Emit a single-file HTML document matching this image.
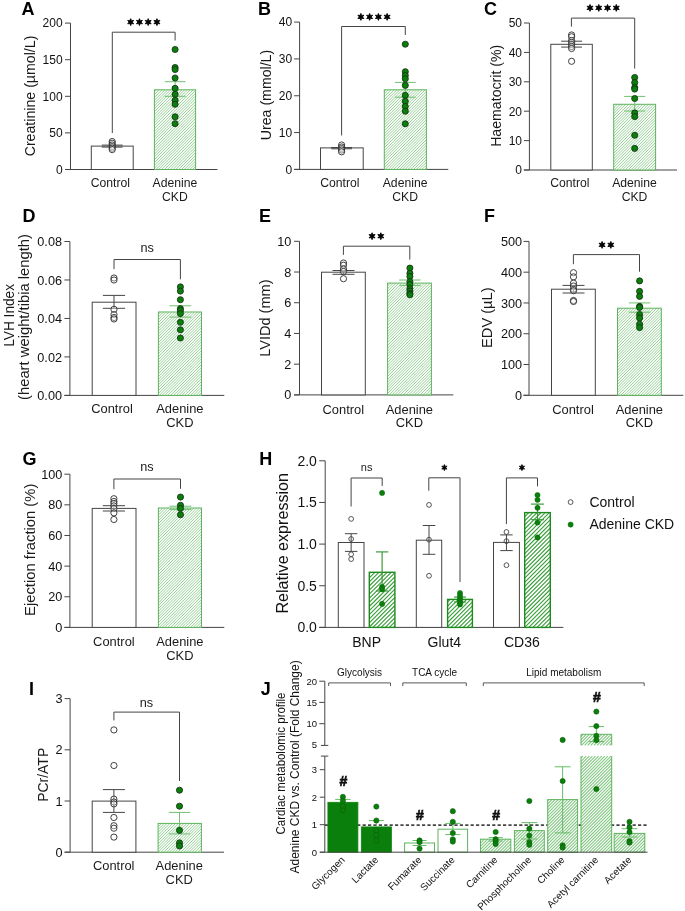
<!DOCTYPE html>
<html><head><meta charset="utf-8"><style>
html,body{margin:0;padding:0;background:#fff;}
svg{display:block;will-change:transform;}
text{font-family:"Liberation Sans", sans-serif;}
</style></head><body>
<svg width="685" height="911" viewBox="0 0 685 911">
<defs>
<pattern id="hatchA" patternUnits="userSpaceOnUse" width="2.0" height="2.0" patternTransform="rotate(45)">
<rect width="2.0" height="2.0" fill="#fff"/><line x1="0" y1="0" x2="0" y2="2.0" stroke="#5cae5c" stroke-width="1.0"/></pattern>
<pattern id="hatchH" patternUnits="userSpaceOnUse" width="2.9" height="2.9" patternTransform="rotate(45)">
<rect width="2.9" height="2.9" fill="#fff"/><line x1="0" y1="0" x2="0" y2="2.9" stroke="#2e962e" stroke-width="1.2"/></pattern>
<pattern id="hatchJ" patternUnits="userSpaceOnUse" width="2.2" height="2.2" patternTransform="rotate(45)">
<rect width="2.2" height="2.2" fill="#fff"/><line x1="0" y1="0" x2="0" y2="2.2" stroke="#8acb8a" stroke-width="1.0"/></pattern>
</defs>
<rect width="685" height="911" fill="#fff"/>
<line x1="70.50" y1="23.10" x2="70.50" y2="169.50" stroke="#454545" stroke-width="1.0" />
<line x1="65.00" y1="169.50" x2="70.50" y2="169.50" stroke="#454545" stroke-width="1.0" />
<text x="62.60" y="173.82" font-size="12" text-anchor="end" font-weight="normal" fill="#111" >0</text>
<line x1="65.00" y1="132.90" x2="70.50" y2="132.90" stroke="#454545" stroke-width="1.0" />
<text x="62.60" y="137.22" font-size="12" text-anchor="end" font-weight="normal" fill="#111" >50</text>
<line x1="65.00" y1="96.30" x2="70.50" y2="96.30" stroke="#454545" stroke-width="1.0" />
<text x="62.60" y="100.62" font-size="12" text-anchor="end" font-weight="normal" fill="#111" >100</text>
<line x1="65.00" y1="59.70" x2="70.50" y2="59.70" stroke="#454545" stroke-width="1.0" />
<text x="62.60" y="64.02" font-size="12" text-anchor="end" font-weight="normal" fill="#111" >150</text>
<line x1="65.00" y1="23.10" x2="70.50" y2="23.10" stroke="#454545" stroke-width="1.0" />
<text x="62.60" y="27.42" font-size="12" text-anchor="end" font-weight="normal" fill="#111" >200</text>
<line x1="65.00" y1="169.50" x2="217.50" y2="169.50" stroke="#454545" stroke-width="1.0" />
<rect x="91.30" y="146.10" width="41.90" height="23.40" fill="#fff" stroke="#454545" stroke-width="1.0"/>
<rect x="154.40" y="89.80" width="41.20" height="79.70" fill="#fff"/>
<path d="M154.40 91.81L156.41 89.80M154.40 94.64L159.24 89.80M154.40 97.47L162.07 89.80M154.40 100.30L164.90 89.80M154.40 103.13L167.73 89.80M154.40 105.96L170.56 89.80M154.40 108.79L173.39 89.80M154.40 111.62L176.22 89.80M154.40 114.45L179.05 89.80M154.40 117.28L181.88 89.80M154.40 120.11L184.71 89.80M154.40 122.94L187.54 89.80M154.40 125.77L190.37 89.80M154.40 128.60L193.20 89.80M154.40 131.43L195.60 90.23M154.40 134.26L195.60 93.06M154.40 137.09L195.60 95.89M154.40 139.92L195.60 98.72M154.40 142.75L195.60 101.55M154.40 145.58L195.60 104.38M154.40 148.41L195.60 107.21M154.40 151.24L195.60 110.04M154.40 154.07L195.60 112.87M154.40 156.90L195.60 115.70M154.40 159.73L195.60 118.53M154.40 162.56L195.60 121.36M154.40 165.39L195.60 124.19M154.40 168.22L195.60 127.02M155.95 169.50L195.60 129.85M158.78 169.50L195.60 132.68M161.61 169.50L195.60 135.51M164.44 169.50L195.60 138.34M167.27 169.50L195.60 141.17M170.10 169.50L195.60 144.00M172.93 169.50L195.60 146.83M175.76 169.50L195.60 149.66M178.59 169.50L195.60 152.49M181.42 169.50L195.60 155.32M184.25 169.50L195.60 158.15M187.08 169.50L195.60 160.98M189.91 169.50L195.60 163.81M192.74 169.50L195.60 166.64M195.57 169.50L195.60 169.47" stroke="#90cd90" stroke-width="0.95" fill="none"/>
<rect x="154.40" y="89.80" width="41.20" height="79.70" fill="none" stroke="#5db35d" stroke-width="1.0"/>
<polyline points="112.30,133.00 112.30,32.20 175.10,32.20 175.10,40.50" fill="none" stroke="#454545" stroke-width="1.0"/>
<polygon points="130.68,18.65 131.49,20.70 133.66,20.38 132.30,22.10 133.66,23.83 131.49,23.50 130.68,25.55 129.86,23.50 127.69,23.83 129.05,22.10 127.69,20.38 129.86,20.70" fill="#000" stroke="#000" stroke-width="0.88" stroke-linejoin="round"/>
<polygon points="139.43,18.65 140.24,20.70 142.41,20.38 141.05,22.10 142.41,23.83 140.24,23.50 139.43,25.55 138.61,23.50 136.44,23.83 137.80,22.10 136.44,20.38 138.61,20.70" fill="#000" stroke="#000" stroke-width="0.88" stroke-linejoin="round"/>
<polygon points="148.18,18.65 148.99,20.70 151.16,20.38 149.80,22.10 151.16,23.83 148.99,23.50 148.18,25.55 147.36,23.50 145.19,23.83 146.55,22.10 145.19,20.38 147.36,20.70" fill="#000" stroke="#000" stroke-width="0.88" stroke-linejoin="round"/>
<polygon points="156.93,18.65 157.74,20.70 159.91,20.38 158.55,22.10 159.91,23.83 157.74,23.50 156.93,25.55 156.11,23.50 153.94,23.83 155.30,22.10 153.94,20.38 156.11,20.70" fill="#000" stroke="#000" stroke-width="0.88" stroke-linejoin="round"/>
<line x1="112.20" y1="145.10" x2="112.20" y2="147.10" stroke="#454545" stroke-width="1.0" />
<line x1="101.80" y1="145.10" x2="122.60" y2="145.10" stroke="#454545" stroke-width="1.0" />
<line x1="101.80" y1="147.10" x2="122.60" y2="147.10" stroke="#454545" stroke-width="1.0" />
<circle cx="112.20" cy="141.50" r="3.1" fill="rgba(255,255,255,0.35)" stroke="#2c2c2c" stroke-width="0.9"/>
<circle cx="112.20" cy="143.20" r="3.1" fill="rgba(255,255,255,0.35)" stroke="#2c2c2c" stroke-width="0.9"/>
<circle cx="112.20" cy="145.00" r="3.1" fill="rgba(255,255,255,0.35)" stroke="#2c2c2c" stroke-width="0.9"/>
<circle cx="112.20" cy="146.60" r="3.1" fill="rgba(255,255,255,0.35)" stroke="#2c2c2c" stroke-width="0.9"/>
<circle cx="112.20" cy="148.20" r="3.1" fill="rgba(255,255,255,0.35)" stroke="#2c2c2c" stroke-width="0.9"/>
<circle cx="112.20" cy="149.60" r="3.1" fill="rgba(255,255,255,0.35)" stroke="#2c2c2c" stroke-width="0.9"/>
<line x1="175.10" y1="81.70" x2="175.10" y2="96.30" stroke="#6fbf6f" stroke-width="1.0" />
<line x1="164.70" y1="81.70" x2="185.50" y2="81.70" stroke="#6fbf6f" stroke-width="1.0" />
<line x1="164.70" y1="96.30" x2="185.50" y2="96.30" stroke="#6fbf6f" stroke-width="1.0" />
<circle cx="175.10" cy="49.50" r="3.05" fill="#0b7f0b" stroke="#143014" stroke-width="0.85"/>
<circle cx="175.10" cy="67.50" r="3.05" fill="#0b7f0b" stroke="#143014" stroke-width="0.85"/>
<circle cx="175.10" cy="69.50" r="3.05" fill="#0b7f0b" stroke="#143014" stroke-width="0.85"/>
<circle cx="175.10" cy="78.00" r="3.05" fill="#0b7f0b" stroke="#143014" stroke-width="0.85"/>
<circle cx="175.10" cy="88.30" r="3.05" fill="#0b7f0b" stroke="#143014" stroke-width="0.85"/>
<circle cx="175.10" cy="94.30" r="3.05" fill="#0b7f0b" stroke="#143014" stroke-width="0.85"/>
<circle cx="175.10" cy="100.30" r="3.05" fill="#0b7f0b" stroke="#143014" stroke-width="0.85"/>
<circle cx="175.10" cy="104.30" r="3.05" fill="#0b7f0b" stroke="#143014" stroke-width="0.85"/>
<circle cx="175.10" cy="116.80" r="3.05" fill="#0b7f0b" stroke="#143014" stroke-width="0.85"/>
<circle cx="175.10" cy="123.70" r="3.05" fill="#0b7f0b" stroke="#143014" stroke-width="0.85"/>
<text x="110.40" y="186.90" font-size="12.2" text-anchor="middle" font-weight="normal" fill="#1a1a1a" >Control</text>
<text x="174.90" y="186.90" font-size="12.2" text-anchor="middle" font-weight="normal" fill="#1a1a1a" >Adenine</text>
<text x="174.90" y="200.50" font-size="12.2" text-anchor="middle" font-weight="normal" fill="#1a1a1a" >CKD</text>
<text x="34.60" y="96.00" font-size="14" text-anchor="middle" font-weight="normal" fill="#1a1a1a" transform="rotate(-90 34.60 96.00)" textLength="120.7" lengthAdjust="spacingAndGlyphs" >Creatinine (µmol/L)</text>
<text x="21.50" y="15.00" font-size="18" text-anchor="start" font-weight="bold" fill="#000" >A</text>
<line x1="299.60" y1="22.10" x2="299.60" y2="169.40" stroke="#454545" stroke-width="1.0" />
<line x1="294.10" y1="169.40" x2="299.60" y2="169.40" stroke="#454545" stroke-width="1.0" />
<text x="292.20" y="173.72" font-size="12" text-anchor="end" font-weight="normal" fill="#111" >0</text>
<line x1="294.10" y1="132.57" x2="299.60" y2="132.57" stroke="#454545" stroke-width="1.0" />
<text x="292.20" y="136.89" font-size="12" text-anchor="end" font-weight="normal" fill="#111" >10</text>
<line x1="294.10" y1="95.75" x2="299.60" y2="95.75" stroke="#454545" stroke-width="1.0" />
<text x="292.20" y="100.07" font-size="12" text-anchor="end" font-weight="normal" fill="#111" >20</text>
<line x1="294.10" y1="58.92" x2="299.60" y2="58.92" stroke="#454545" stroke-width="1.0" />
<text x="292.20" y="63.24" font-size="12" text-anchor="end" font-weight="normal" fill="#111" >30</text>
<line x1="294.10" y1="22.10" x2="299.60" y2="22.10" stroke="#454545" stroke-width="1.0" />
<text x="292.20" y="26.42" font-size="12" text-anchor="end" font-weight="normal" fill="#111" >40</text>
<line x1="294.10" y1="169.40" x2="448.30" y2="169.40" stroke="#454545" stroke-width="1.0" />
<rect x="320.50" y="147.90" width="42.70" height="21.50" fill="#fff" stroke="#454545" stroke-width="1.0"/>
<rect x="384.30" y="89.80" width="42.10" height="79.60" fill="#fff"/>
<path d="M384.30 91.14L385.64 89.80M384.30 93.97L388.47 89.80M384.30 96.80L391.30 89.80M384.30 99.63L394.13 89.80M384.30 102.46L396.96 89.80M384.30 105.29L399.79 89.80M384.30 108.12L402.62 89.80M384.30 110.95L405.45 89.80M384.30 113.78L408.28 89.80M384.30 116.61L411.11 89.80M384.30 119.44L413.94 89.80M384.30 122.27L416.77 89.80M384.30 125.10L419.60 89.80M384.30 127.93L422.43 89.80M384.30 130.76L425.26 89.80M384.30 133.59L426.40 91.49M384.30 136.42L426.40 94.32M384.30 139.25L426.40 97.15M384.30 142.08L426.40 99.98M384.30 144.91L426.40 102.81M384.30 147.74L426.40 105.64M384.30 150.57L426.40 108.47M384.30 153.40L426.40 111.30M384.30 156.23L426.40 114.13M384.30 159.06L426.40 116.96M384.30 161.89L426.40 119.79M384.30 164.72L426.40 122.62M384.30 167.55L426.40 125.45M385.28 169.40L426.40 128.28M388.11 169.40L426.40 131.11M390.94 169.40L426.40 133.94M393.77 169.40L426.40 136.77M396.60 169.40L426.40 139.60M399.43 169.40L426.40 142.43M402.26 169.40L426.40 145.26M405.09 169.40L426.40 148.09M407.92 169.40L426.40 150.92M410.75 169.40L426.40 153.75M413.58 169.40L426.40 156.58M416.41 169.40L426.40 159.41M419.24 169.40L426.40 162.24M422.07 169.40L426.40 165.07M424.90 169.40L426.40 167.90" stroke="#90cd90" stroke-width="0.95" fill="none"/>
<rect x="384.30" y="89.80" width="42.10" height="79.60" fill="none" stroke="#5db35d" stroke-width="1.0"/>
<polyline points="341.60,135.50 341.60,26.50 405.30,26.50 405.30,35.00" fill="none" stroke="#454545" stroke-width="1.0"/>
<polygon points="360.88,13.45 361.69,15.50 363.86,15.17 362.50,16.90 363.86,18.62 361.69,18.30 360.88,20.35 360.06,18.30 357.89,18.62 359.25,16.90 357.89,15.17 360.06,15.50" fill="#000" stroke="#000" stroke-width="0.88" stroke-linejoin="round"/>
<polygon points="369.62,13.45 370.44,15.50 372.61,15.17 371.25,16.90 372.61,18.62 370.44,18.30 369.62,20.35 368.81,18.30 366.64,18.62 368.00,16.90 366.64,15.17 368.81,15.50" fill="#000" stroke="#000" stroke-width="0.88" stroke-linejoin="round"/>
<polygon points="378.38,13.45 379.19,15.50 381.36,15.17 380.00,16.90 381.36,18.62 379.19,18.30 378.38,20.35 377.56,18.30 375.39,18.62 376.75,16.90 375.39,15.17 377.56,15.50" fill="#000" stroke="#000" stroke-width="0.88" stroke-linejoin="round"/>
<polygon points="387.12,13.45 387.94,15.50 390.11,15.17 388.75,16.90 390.11,18.62 387.94,18.30 387.12,20.35 386.31,18.30 384.14,18.62 385.50,16.90 384.14,15.17 386.31,15.50" fill="#000" stroke="#000" stroke-width="0.88" stroke-linejoin="round"/>
<line x1="341.60" y1="147.50" x2="341.60" y2="148.80" stroke="#454545" stroke-width="1.0" />
<line x1="331.20" y1="147.50" x2="352.00" y2="147.50" stroke="#454545" stroke-width="1.0" />
<line x1="331.20" y1="148.80" x2="352.00" y2="148.80" stroke="#454545" stroke-width="1.0" />
<circle cx="341.60" cy="145.00" r="3.1" fill="rgba(255,255,255,0.35)" stroke="#2c2c2c" stroke-width="0.9"/>
<circle cx="341.60" cy="147.00" r="3.1" fill="rgba(255,255,255,0.35)" stroke="#2c2c2c" stroke-width="0.9"/>
<circle cx="341.60" cy="148.50" r="3.1" fill="rgba(255,255,255,0.35)" stroke="#2c2c2c" stroke-width="0.9"/>
<circle cx="341.60" cy="150.00" r="3.1" fill="rgba(255,255,255,0.35)" stroke="#2c2c2c" stroke-width="0.9"/>
<circle cx="341.60" cy="151.80" r="3.1" fill="rgba(255,255,255,0.35)" stroke="#2c2c2c" stroke-width="0.9"/>
<line x1="405.30" y1="82.40" x2="405.30" y2="97.20" stroke="#6fbf6f" stroke-width="1.0" />
<line x1="394.90" y1="82.40" x2="415.70" y2="82.40" stroke="#6fbf6f" stroke-width="1.0" />
<line x1="394.90" y1="97.20" x2="415.70" y2="97.20" stroke="#6fbf6f" stroke-width="1.0" />
<circle cx="405.30" cy="44.20" r="3.05" fill="#0b7f0b" stroke="#143014" stroke-width="0.85"/>
<circle cx="405.30" cy="71.70" r="3.05" fill="#0b7f0b" stroke="#143014" stroke-width="0.85"/>
<circle cx="405.30" cy="75.50" r="3.05" fill="#0b7f0b" stroke="#143014" stroke-width="0.85"/>
<circle cx="405.30" cy="78.80" r="3.05" fill="#0b7f0b" stroke="#143014" stroke-width="0.85"/>
<circle cx="405.30" cy="85.40" r="3.05" fill="#0b7f0b" stroke="#143014" stroke-width="0.85"/>
<circle cx="405.30" cy="95.40" r="3.05" fill="#0b7f0b" stroke="#143014" stroke-width="0.85"/>
<circle cx="405.30" cy="101.30" r="3.05" fill="#0b7f0b" stroke="#143014" stroke-width="0.85"/>
<circle cx="405.30" cy="106.50" r="3.05" fill="#0b7f0b" stroke="#143014" stroke-width="0.85"/>
<circle cx="405.30" cy="111.20" r="3.05" fill="#0b7f0b" stroke="#143014" stroke-width="0.85"/>
<circle cx="405.30" cy="123.80" r="3.05" fill="#0b7f0b" stroke="#143014" stroke-width="0.85"/>
<text x="339.90" y="186.90" font-size="12.2" text-anchor="middle" font-weight="normal" fill="#1a1a1a" >Control</text>
<text x="405.10" y="186.90" font-size="12.2" text-anchor="middle" font-weight="normal" fill="#1a1a1a" >Adenine</text>
<text x="405.10" y="200.50" font-size="12.2" text-anchor="middle" font-weight="normal" fill="#1a1a1a" >CKD</text>
<text x="271.20" y="95.00" font-size="14" text-anchor="middle" font-weight="normal" fill="#1a1a1a" transform="rotate(-90 271.20 95.00)" textLength="90.4" lengthAdjust="spacingAndGlyphs" >Urea (mmol/L)</text>
<text x="258.00" y="15.00" font-size="18" text-anchor="start" font-weight="bold" fill="#000" >B</text>
<line x1="529.40" y1="23.00" x2="529.40" y2="170.00" stroke="#454545" stroke-width="1.0" />
<line x1="523.90" y1="170.00" x2="529.40" y2="170.00" stroke="#454545" stroke-width="1.0" />
<text x="522.00" y="174.32" font-size="12" text-anchor="end" font-weight="normal" fill="#111" >0</text>
<line x1="523.90" y1="140.60" x2="529.40" y2="140.60" stroke="#454545" stroke-width="1.0" />
<text x="522.00" y="144.92" font-size="12" text-anchor="end" font-weight="normal" fill="#111" >10</text>
<line x1="523.90" y1="111.20" x2="529.40" y2="111.20" stroke="#454545" stroke-width="1.0" />
<text x="522.00" y="115.52" font-size="12" text-anchor="end" font-weight="normal" fill="#111" >20</text>
<line x1="523.90" y1="81.80" x2="529.40" y2="81.80" stroke="#454545" stroke-width="1.0" />
<text x="522.00" y="86.12" font-size="12" text-anchor="end" font-weight="normal" fill="#111" >30</text>
<line x1="523.90" y1="52.40" x2="529.40" y2="52.40" stroke="#454545" stroke-width="1.0" />
<text x="522.00" y="56.72" font-size="12" text-anchor="end" font-weight="normal" fill="#111" >40</text>
<line x1="523.90" y1="23.00" x2="529.40" y2="23.00" stroke="#454545" stroke-width="1.0" />
<text x="522.00" y="27.32" font-size="12" text-anchor="end" font-weight="normal" fill="#111" >50</text>
<line x1="523.90" y1="170.00" x2="677.00" y2="170.00" stroke="#454545" stroke-width="1.0" />
<rect x="550.80" y="44.30" width="41.50" height="125.70" fill="#fff" stroke="#454545" stroke-width="1.0"/>
<rect x="613.70" y="104.30" width="41.90" height="65.70" fill="#fff"/>
<path d="M613.70 105.12L614.52 104.30M613.70 107.95L617.35 104.30M613.70 110.78L620.18 104.30M613.70 113.61L623.01 104.30M613.70 116.44L625.84 104.30M613.70 119.27L628.67 104.30M613.70 122.10L631.50 104.30M613.70 124.93L634.33 104.30M613.70 127.76L637.16 104.30M613.70 130.59L639.99 104.30M613.70 133.42L642.82 104.30M613.70 136.25L645.65 104.30M613.70 139.08L648.48 104.30M613.70 141.91L651.31 104.30M613.70 144.74L654.14 104.30M613.70 147.57L655.60 105.67M613.70 150.40L655.60 108.50M613.70 153.23L655.60 111.33M613.70 156.06L655.60 114.16M613.70 158.89L655.60 116.99M613.70 161.72L655.60 119.82M613.70 164.55L655.60 122.65M613.70 167.38L655.60 125.48M613.91 170.00L655.60 128.31M616.74 170.00L655.60 131.14M619.57 170.00L655.60 133.97M622.40 170.00L655.60 136.80M625.23 170.00L655.60 139.63M628.06 170.00L655.60 142.46M630.89 170.00L655.60 145.29M633.72 170.00L655.60 148.12M636.55 170.00L655.60 150.95M639.38 170.00L655.60 153.78M642.21 170.00L655.60 156.61M645.04 170.00L655.60 159.44M647.87 170.00L655.60 162.27M650.70 170.00L655.60 165.10M653.53 170.00L655.60 167.93" stroke="#90cd90" stroke-width="0.95" fill="none"/>
<rect x="613.70" y="104.30" width="41.90" height="65.70" fill="none" stroke="#5db35d" stroke-width="1.0"/>
<polyline points="571.40,26.60 571.40,18.10 634.70,18.10 634.70,68.60" fill="none" stroke="#454545" stroke-width="1.0"/>
<polygon points="590.02,4.45 590.84,6.50 593.01,6.18 591.65,7.90 593.01,9.62 590.84,9.30 590.02,11.35 589.21,9.30 587.04,9.62 588.40,7.90 587.04,6.17 589.21,6.50" fill="#000" stroke="#000" stroke-width="0.88" stroke-linejoin="round"/>
<polygon points="598.77,4.45 599.59,6.50 601.76,6.18 600.40,7.90 601.76,9.62 599.59,9.30 598.77,11.35 597.96,9.30 595.79,9.62 597.15,7.90 595.79,6.17 597.96,6.50" fill="#000" stroke="#000" stroke-width="0.88" stroke-linejoin="round"/>
<polygon points="607.52,4.45 608.34,6.50 610.51,6.18 609.15,7.90 610.51,9.62 608.34,9.30 607.52,11.35 606.71,9.30 604.54,9.62 605.90,7.90 604.54,6.17 606.71,6.50" fill="#000" stroke="#000" stroke-width="0.88" stroke-linejoin="round"/>
<polygon points="616.27,4.45 617.09,6.50 619.26,6.18 617.90,7.90 619.26,9.62 617.09,9.30 616.27,11.35 615.46,9.30 613.29,9.62 614.65,7.90 613.29,6.17 615.46,6.50" fill="#000" stroke="#000" stroke-width="0.88" stroke-linejoin="round"/>
<line x1="571.60" y1="41.20" x2="571.60" y2="47.10" stroke="#454545" stroke-width="1.0" />
<line x1="561.20" y1="41.20" x2="582.00" y2="41.20" stroke="#454545" stroke-width="1.0" />
<line x1="561.20" y1="47.10" x2="582.00" y2="47.10" stroke="#454545" stroke-width="1.0" />
<circle cx="571.60" cy="35.00" r="3.1" fill="rgba(255,255,255,0.35)" stroke="#2c2c2c" stroke-width="0.9"/>
<circle cx="571.60" cy="36.80" r="3.1" fill="rgba(255,255,255,0.35)" stroke="#2c2c2c" stroke-width="0.9"/>
<circle cx="571.60" cy="40.50" r="3.1" fill="rgba(255,255,255,0.35)" stroke="#2c2c2c" stroke-width="0.9"/>
<circle cx="571.60" cy="42.50" r="3.1" fill="rgba(255,255,255,0.35)" stroke="#2c2c2c" stroke-width="0.9"/>
<circle cx="571.60" cy="44.50" r="3.1" fill="rgba(255,255,255,0.35)" stroke="#2c2c2c" stroke-width="0.9"/>
<circle cx="571.60" cy="46.50" r="3.1" fill="rgba(255,255,255,0.35)" stroke="#2c2c2c" stroke-width="0.9"/>
<circle cx="571.60" cy="48.50" r="3.1" fill="rgba(255,255,255,0.35)" stroke="#2c2c2c" stroke-width="0.9"/>
<circle cx="571.60" cy="61.30" r="3.1" fill="rgba(255,255,255,0.35)" stroke="#2c2c2c" stroke-width="0.9"/>
<line x1="634.70" y1="96.40" x2="634.70" y2="111.00" stroke="#6fbf6f" stroke-width="1.0" />
<line x1="624.10" y1="96.40" x2="645.30" y2="96.40" stroke="#6fbf6f" stroke-width="1.0" />
<line x1="624.10" y1="111.00" x2="645.30" y2="111.00" stroke="#6fbf6f" stroke-width="1.0" />
<circle cx="634.70" cy="77.50" r="3.05" fill="#0b7f0b" stroke="#143014" stroke-width="0.85"/>
<circle cx="634.70" cy="82.60" r="3.05" fill="#0b7f0b" stroke="#143014" stroke-width="0.85"/>
<circle cx="634.70" cy="87.50" r="3.05" fill="#0b7f0b" stroke="#143014" stroke-width="0.85"/>
<circle cx="634.70" cy="89.10" r="3.05" fill="#0b7f0b" stroke="#143014" stroke-width="0.85"/>
<circle cx="634.70" cy="98.50" r="3.05" fill="#0b7f0b" stroke="#143014" stroke-width="0.85"/>
<circle cx="634.70" cy="112.90" r="3.05" fill="#0b7f0b" stroke="#143014" stroke-width="0.85"/>
<circle cx="634.70" cy="116.60" r="3.05" fill="#0b7f0b" stroke="#143014" stroke-width="0.85"/>
<circle cx="634.70" cy="135.30" r="3.05" fill="#0b7f0b" stroke="#143014" stroke-width="0.85"/>
<circle cx="634.70" cy="148.40" r="3.05" fill="#0b7f0b" stroke="#143014" stroke-width="0.85"/>
<text x="569.90" y="186.90" font-size="12.2" text-anchor="middle" font-weight="normal" fill="#1a1a1a" >Control</text>
<text x="634.50" y="186.90" font-size="12.2" text-anchor="middle" font-weight="normal" fill="#1a1a1a" >Adenine</text>
<text x="634.50" y="200.50" font-size="12.2" text-anchor="middle" font-weight="normal" fill="#1a1a1a" >CKD</text>
<text x="501.30" y="95.80" font-size="14" text-anchor="middle" font-weight="normal" fill="#1a1a1a" transform="rotate(-90 501.30 95.80)" textLength="102.1" lengthAdjust="spacingAndGlyphs" >Haematocrit (%)</text>
<text x="484.00" y="15.00" font-size="18" text-anchor="start" font-weight="bold" fill="#000" >C</text>
<line x1="69.90" y1="241.50" x2="69.90" y2="395.40" stroke="#454545" stroke-width="1.0" />
<line x1="64.40" y1="395.40" x2="69.90" y2="395.40" stroke="#454545" stroke-width="1.0" />
<text x="62.00" y="399.97" font-size="12.7" text-anchor="end" font-weight="normal" fill="#111" >0.00</text>
<line x1="64.40" y1="356.92" x2="69.90" y2="356.92" stroke="#454545" stroke-width="1.0" />
<text x="62.00" y="361.50" font-size="12.7" text-anchor="end" font-weight="normal" fill="#111" >0.02</text>
<line x1="64.40" y1="318.45" x2="69.90" y2="318.45" stroke="#454545" stroke-width="1.0" />
<text x="62.00" y="323.02" font-size="12.7" text-anchor="end" font-weight="normal" fill="#111" >0.04</text>
<line x1="64.40" y1="279.98" x2="69.90" y2="279.98" stroke="#454545" stroke-width="1.0" />
<text x="62.00" y="284.55" font-size="12.7" text-anchor="end" font-weight="normal" fill="#111" >0.06</text>
<line x1="64.40" y1="241.50" x2="69.90" y2="241.50" stroke="#454545" stroke-width="1.0" />
<text x="62.00" y="246.07" font-size="12.7" text-anchor="end" font-weight="normal" fill="#111" >0.08</text>
<line x1="64.40" y1="395.40" x2="224.30" y2="395.40" stroke="#454545" stroke-width="1.0" />
<rect x="92.20" y="302.20" width="43.80" height="93.20" fill="#fff" stroke="#454545" stroke-width="1.0"/>
<rect x="158.40" y="312.00" width="43.10" height="83.40" fill="#fff"/>
<path d="M158.40 314.21L160.61 312.00M158.40 317.04L163.44 312.00M158.40 319.87L166.27 312.00M158.40 322.70L169.10 312.00M158.40 325.53L171.93 312.00M158.40 328.36L174.76 312.00M158.40 331.19L177.59 312.00M158.40 334.02L180.42 312.00M158.40 336.85L183.25 312.00M158.40 339.68L186.08 312.00M158.40 342.51L188.91 312.00M158.40 345.34L191.74 312.00M158.40 348.17L194.57 312.00M158.40 351.00L197.40 312.00M158.40 353.83L200.23 312.00M158.40 356.66L201.50 313.56M158.40 359.49L201.50 316.39M158.40 362.32L201.50 319.22M158.40 365.15L201.50 322.05M158.40 367.98L201.50 324.88M158.40 370.81L201.50 327.71M158.40 373.64L201.50 330.54M158.40 376.47L201.50 333.37M158.40 379.30L201.50 336.20M158.40 382.13L201.50 339.03M158.40 384.96L201.50 341.86M158.40 387.79L201.50 344.69M158.40 390.62L201.50 347.52M158.40 393.45L201.50 350.35M159.28 395.40L201.50 353.18M162.11 395.40L201.50 356.01M164.94 395.40L201.50 358.84M167.77 395.40L201.50 361.67M170.60 395.40L201.50 364.50M173.43 395.40L201.50 367.33M176.26 395.40L201.50 370.16M179.09 395.40L201.50 372.99M181.92 395.40L201.50 375.82M184.75 395.40L201.50 378.65M187.58 395.40L201.50 381.48M190.41 395.40L201.50 384.31M193.24 395.40L201.50 387.14M196.07 395.40L201.50 389.97M198.90 395.40L201.50 392.80" stroke="#90cd90" stroke-width="0.95" fill="none"/>
<rect x="158.40" y="312.00" width="43.10" height="83.40" fill="none" stroke="#5db35d" stroke-width="1.0"/>
<polyline points="114.00,269.10 114.00,259.50 180.40,259.50 180.40,279.30" fill="none" stroke="#454545" stroke-width="1.0"/>
<text x="147.20" y="251.90" font-size="12.7" text-anchor="middle" font-weight="normal" fill="#1a1a1a" >ns</text>
<line x1="114.00" y1="295.40" x2="114.00" y2="308.30" stroke="#454545" stroke-width="1.0" />
<line x1="102.90" y1="295.40" x2="125.10" y2="295.40" stroke="#454545" stroke-width="1.0" />
<line x1="102.90" y1="308.30" x2="125.10" y2="308.30" stroke="#454545" stroke-width="1.0" />
<circle cx="114.00" cy="278.00" r="3.1" fill="rgba(255,255,255,0.35)" stroke="#2c2c2c" stroke-width="0.9"/>
<circle cx="114.00" cy="280.00" r="3.1" fill="rgba(255,255,255,0.35)" stroke="#2c2c2c" stroke-width="0.9"/>
<circle cx="114.00" cy="309.30" r="3.1" fill="rgba(255,255,255,0.35)" stroke="#2c2c2c" stroke-width="0.9"/>
<circle cx="114.00" cy="314.70" r="3.1" fill="rgba(255,255,255,0.35)" stroke="#2c2c2c" stroke-width="0.9"/>
<circle cx="114.00" cy="317.50" r="3.1" fill="rgba(255,255,255,0.35)" stroke="#2c2c2c" stroke-width="0.9"/>
<circle cx="114.00" cy="319.00" r="3.1" fill="rgba(255,255,255,0.35)" stroke="#2c2c2c" stroke-width="0.9"/>
<line x1="180.40" y1="305.80" x2="180.40" y2="317.10" stroke="#6fbf6f" stroke-width="1.0" />
<line x1="169.50" y1="305.80" x2="191.30" y2="305.80" stroke="#6fbf6f" stroke-width="1.0" />
<line x1="169.50" y1="317.10" x2="191.30" y2="317.10" stroke="#6fbf6f" stroke-width="1.0" />
<circle cx="180.40" cy="286.90" r="3.05" fill="#0b7f0b" stroke="#143014" stroke-width="0.85"/>
<circle cx="180.40" cy="291.10" r="3.05" fill="#0b7f0b" stroke="#143014" stroke-width="0.85"/>
<circle cx="180.40" cy="299.70" r="3.05" fill="#0b7f0b" stroke="#143014" stroke-width="0.85"/>
<circle cx="180.40" cy="308.60" r="3.05" fill="#0b7f0b" stroke="#143014" stroke-width="0.85"/>
<circle cx="180.40" cy="310.40" r="3.05" fill="#0b7f0b" stroke="#143014" stroke-width="0.85"/>
<circle cx="180.40" cy="313.60" r="3.05" fill="#0b7f0b" stroke="#143014" stroke-width="0.85"/>
<circle cx="180.40" cy="322.30" r="3.05" fill="#0b7f0b" stroke="#143014" stroke-width="0.85"/>
<circle cx="180.40" cy="329.80" r="3.05" fill="#0b7f0b" stroke="#143014" stroke-width="0.85"/>
<circle cx="180.40" cy="338.00" r="3.05" fill="#0b7f0b" stroke="#143014" stroke-width="0.85"/>
<text x="112.00" y="413.40" font-size="12.9" text-anchor="middle" font-weight="normal" fill="#1a1a1a" >Control</text>
<text x="179.90" y="413.40" font-size="12.9" text-anchor="middle" font-weight="normal" fill="#1a1a1a" >Adenine</text>
<text x="179.90" y="427.10" font-size="12.9" text-anchor="middle" font-weight="normal" fill="#1a1a1a" >CKD</text>
<text x="14.00" y="315.40" font-size="14.8" text-anchor="middle" font-weight="normal" fill="#1a1a1a" transform="rotate(-90 14.00 315.40)" textLength="62.9" lengthAdjust="spacingAndGlyphs" >LVH Index</text>
<text x="29.40" y="317.00" font-size="14.8" text-anchor="middle" font-weight="normal" fill="#1a1a1a" transform="rotate(-90 29.40 317.00)" textLength="165.9" lengthAdjust="spacingAndGlyphs" >(heart weight/tibia length)</text>
<text x="22.50" y="222.00" font-size="18" text-anchor="start" font-weight="bold" fill="#000" >D</text>
<line x1="299.50" y1="241.30" x2="299.50" y2="394.90" stroke="#454545" stroke-width="1.0" />
<line x1="294.00" y1="394.90" x2="299.50" y2="394.90" stroke="#454545" stroke-width="1.0" />
<text x="291.40" y="399.47" font-size="12.7" text-anchor="end" font-weight="normal" fill="#111" >0</text>
<line x1="294.00" y1="364.18" x2="299.50" y2="364.18" stroke="#454545" stroke-width="1.0" />
<text x="291.40" y="368.75" font-size="12.7" text-anchor="end" font-weight="normal" fill="#111" >2</text>
<line x1="294.00" y1="333.46" x2="299.50" y2="333.46" stroke="#454545" stroke-width="1.0" />
<text x="291.40" y="338.03" font-size="12.7" text-anchor="end" font-weight="normal" fill="#111" >4</text>
<line x1="294.00" y1="302.74" x2="299.50" y2="302.74" stroke="#454545" stroke-width="1.0" />
<text x="291.40" y="307.31" font-size="12.7" text-anchor="end" font-weight="normal" fill="#111" >6</text>
<line x1="294.00" y1="272.02" x2="299.50" y2="272.02" stroke="#454545" stroke-width="1.0" />
<text x="291.40" y="276.59" font-size="12.7" text-anchor="end" font-weight="normal" fill="#111" >8</text>
<line x1="294.00" y1="241.30" x2="299.50" y2="241.30" stroke="#454545" stroke-width="1.0" />
<text x="291.40" y="245.87" font-size="12.7" text-anchor="end" font-weight="normal" fill="#111" >10</text>
<line x1="294.00" y1="394.90" x2="453.30" y2="394.90" stroke="#454545" stroke-width="1.0" />
<rect x="321.50" y="272.20" width="43.80" height="122.70" fill="#fff" stroke="#454545" stroke-width="1.0"/>
<rect x="387.60" y="283.10" width="43.80" height="111.80" fill="#fff"/>
<path d="M387.60 283.11L387.61 283.10M387.60 285.94L390.44 283.10M387.60 288.77L393.27 283.10M387.60 291.60L396.10 283.10M387.60 294.43L398.93 283.10M387.60 297.26L401.76 283.10M387.60 300.09L404.59 283.10M387.60 302.92L407.42 283.10M387.60 305.75L410.25 283.10M387.60 308.58L413.08 283.10M387.60 311.41L415.91 283.10M387.60 314.24L418.74 283.10M387.60 317.07L421.57 283.10M387.60 319.90L424.40 283.10M387.60 322.73L427.23 283.10M387.60 325.56L430.06 283.10M387.60 328.39L431.40 284.59M387.60 331.22L431.40 287.42M387.60 334.05L431.40 290.25M387.60 336.88L431.40 293.08M387.60 339.71L431.40 295.91M387.60 342.54L431.40 298.74M387.60 345.37L431.40 301.57M387.60 348.20L431.40 304.40M387.60 351.03L431.40 307.23M387.60 353.86L431.40 310.06M387.60 356.69L431.40 312.89M387.60 359.52L431.40 315.72M387.60 362.35L431.40 318.55M387.60 365.18L431.40 321.38M387.60 368.01L431.40 324.21M387.60 370.84L431.40 327.04M387.60 373.67L431.40 329.87M387.60 376.50L431.40 332.70M387.60 379.33L431.40 335.53M387.60 382.16L431.40 338.36M387.60 384.99L431.40 341.19M387.60 387.82L431.40 344.02M387.60 390.65L431.40 346.85M387.60 393.48L431.40 349.68M389.01 394.90L431.40 352.51M391.84 394.90L431.40 355.34M394.67 394.90L431.40 358.17M397.50 394.90L431.40 361.00M400.33 394.90L431.40 363.83M403.16 394.90L431.40 366.66M405.99 394.90L431.40 369.49M408.82 394.90L431.40 372.32M411.65 394.90L431.40 375.15M414.48 394.90L431.40 377.98M417.31 394.90L431.40 380.81M420.14 394.90L431.40 383.64M422.97 394.90L431.40 386.47M425.80 394.90L431.40 389.30M428.63 394.90L431.40 392.13" stroke="#90cd90" stroke-width="0.95" fill="none"/>
<rect x="387.60" y="283.10" width="43.80" height="111.80" fill="none" stroke="#5db35d" stroke-width="1.0"/>
<polyline points="343.40,254.90 343.40,246.20 409.80,246.20 409.80,259.60" fill="none" stroke="#454545" stroke-width="1.0"/>
<polygon points="372.07,232.75 372.89,234.80 375.06,234.47 373.70,236.20 375.06,237.92 372.89,237.60 372.07,239.65 371.26,237.60 369.09,237.92 370.45,236.20 369.09,234.47 371.26,234.80" fill="#000" stroke="#000" stroke-width="0.88" stroke-linejoin="round"/>
<polygon points="380.82,232.75 381.64,234.80 383.81,234.47 382.45,236.20 383.81,237.92 381.64,237.60 380.82,239.65 380.01,237.60 377.84,237.92 379.20,236.20 377.84,234.47 380.01,234.80" fill="#000" stroke="#000" stroke-width="0.88" stroke-linejoin="round"/>
<line x1="343.50" y1="270.50" x2="343.50" y2="274.30" stroke="#454545" stroke-width="1.0" />
<line x1="332.50" y1="270.50" x2="354.50" y2="270.50" stroke="#454545" stroke-width="1.0" />
<line x1="332.50" y1="274.30" x2="354.50" y2="274.30" stroke="#454545" stroke-width="1.0" />
<circle cx="343.50" cy="263.00" r="3.1" fill="rgba(255,255,255,0.35)" stroke="#2c2c2c" stroke-width="0.9"/>
<circle cx="343.50" cy="265.20" r="3.1" fill="rgba(255,255,255,0.35)" stroke="#2c2c2c" stroke-width="0.9"/>
<circle cx="343.50" cy="269.00" r="3.1" fill="rgba(255,255,255,0.35)" stroke="#2c2c2c" stroke-width="0.9"/>
<circle cx="343.50" cy="271.50" r="3.1" fill="rgba(255,255,255,0.35)" stroke="#2c2c2c" stroke-width="0.9"/>
<circle cx="343.50" cy="278.70" r="3.1" fill="rgba(255,255,255,0.35)" stroke="#2c2c2c" stroke-width="0.9"/>
<line x1="409.90" y1="280.00" x2="409.90" y2="285.40" stroke="#6fbf6f" stroke-width="1.0" />
<line x1="399.20" y1="280.00" x2="420.60" y2="280.00" stroke="#6fbf6f" stroke-width="1.0" />
<line x1="399.20" y1="285.40" x2="420.60" y2="285.40" stroke="#6fbf6f" stroke-width="1.0" />
<circle cx="409.90" cy="268.10" r="3.05" fill="#0b7f0b" stroke="#143014" stroke-width="0.85"/>
<circle cx="409.90" cy="273.30" r="3.05" fill="#0b7f0b" stroke="#143014" stroke-width="0.85"/>
<circle cx="409.90" cy="276.50" r="3.05" fill="#0b7f0b" stroke="#143014" stroke-width="0.85"/>
<circle cx="409.90" cy="281.70" r="3.05" fill="#0b7f0b" stroke="#143014" stroke-width="0.85"/>
<circle cx="409.90" cy="284.50" r="3.05" fill="#0b7f0b" stroke="#143014" stroke-width="0.85"/>
<circle cx="409.90" cy="288.60" r="3.05" fill="#0b7f0b" stroke="#143014" stroke-width="0.85"/>
<circle cx="409.90" cy="291.00" r="3.05" fill="#0b7f0b" stroke="#143014" stroke-width="0.85"/>
<circle cx="409.90" cy="293.60" r="3.05" fill="#0b7f0b" stroke="#143014" stroke-width="0.85"/>
<circle cx="409.90" cy="294.80" r="3.05" fill="#0b7f0b" stroke="#143014" stroke-width="0.85"/>
<text x="343.30" y="413.70" font-size="12.9" text-anchor="middle" font-weight="normal" fill="#1a1a1a" >Control</text>
<text x="409.40" y="413.70" font-size="12.9" text-anchor="middle" font-weight="normal" fill="#1a1a1a" >Adenine</text>
<text x="409.40" y="427.10" font-size="12.9" text-anchor="middle" font-weight="normal" fill="#1a1a1a" >CKD</text>
<text x="269.90" y="318.10" font-size="14.8" text-anchor="middle" font-weight="normal" fill="#1a1a1a" transform="rotate(-90 269.90 318.10)" textLength="77.2" lengthAdjust="spacingAndGlyphs" >LVIDd (mm)</text>
<text x="259.00" y="222.00" font-size="18" text-anchor="start" font-weight="bold" fill="#000" >E</text>
<line x1="529.00" y1="241.40" x2="529.00" y2="395.30" stroke="#454545" stroke-width="1.0" />
<line x1="523.50" y1="395.30" x2="529.00" y2="395.30" stroke="#454545" stroke-width="1.0" />
<text x="522.10" y="399.87" font-size="12.7" text-anchor="end" font-weight="normal" fill="#111" >0</text>
<line x1="523.50" y1="364.52" x2="529.00" y2="364.52" stroke="#454545" stroke-width="1.0" />
<text x="522.10" y="369.09" font-size="12.7" text-anchor="end" font-weight="normal" fill="#111" >100</text>
<line x1="523.50" y1="333.74" x2="529.00" y2="333.74" stroke="#454545" stroke-width="1.0" />
<text x="522.10" y="338.31" font-size="12.7" text-anchor="end" font-weight="normal" fill="#111" >200</text>
<line x1="523.50" y1="302.96" x2="529.00" y2="302.96" stroke="#454545" stroke-width="1.0" />
<text x="522.10" y="307.53" font-size="12.7" text-anchor="end" font-weight="normal" fill="#111" >300</text>
<line x1="523.50" y1="272.18" x2="529.00" y2="272.18" stroke="#454545" stroke-width="1.0" />
<text x="522.10" y="276.75" font-size="12.7" text-anchor="end" font-weight="normal" fill="#111" >400</text>
<line x1="523.50" y1="241.40" x2="529.00" y2="241.40" stroke="#454545" stroke-width="1.0" />
<text x="522.10" y="245.97" font-size="12.7" text-anchor="end" font-weight="normal" fill="#111" >500</text>
<line x1="523.50" y1="395.30" x2="683.30" y2="395.30" stroke="#454545" stroke-width="1.0" />
<rect x="551.50" y="289.20" width="43.80" height="106.10" fill="#fff" stroke="#454545" stroke-width="1.0"/>
<rect x="617.50" y="308.20" width="43.80" height="87.10" fill="#fff"/>
<path d="M617.50 310.74L620.04 308.20M617.50 313.57L622.87 308.20M617.50 316.40L625.70 308.20M617.50 319.23L628.53 308.20M617.50 322.06L631.36 308.20M617.50 324.89L634.19 308.20M617.50 327.72L637.02 308.20M617.50 330.55L639.85 308.20M617.50 333.38L642.68 308.20M617.50 336.21L645.51 308.20M617.50 339.04L648.34 308.20M617.50 341.87L651.17 308.20M617.50 344.70L654.00 308.20M617.50 347.53L656.83 308.20M617.50 350.36L659.66 308.20M617.50 353.19L661.30 309.39M617.50 356.02L661.30 312.22M617.50 358.85L661.30 315.05M617.50 361.68L661.30 317.88M617.50 364.51L661.30 320.71M617.50 367.34L661.30 323.54M617.50 370.17L661.30 326.37M617.50 373.00L661.30 329.20M617.50 375.83L661.30 332.03M617.50 378.66L661.30 334.86M617.50 381.49L661.30 337.69M617.50 384.32L661.30 340.52M617.50 387.15L661.30 343.35M617.50 389.98L661.30 346.18M617.50 392.81L661.30 349.01M617.84 395.30L661.30 351.84M620.67 395.30L661.30 354.67M623.50 395.30L661.30 357.50M626.33 395.30L661.30 360.33M629.16 395.30L661.30 363.16M631.99 395.30L661.30 365.99M634.82 395.30L661.30 368.82M637.65 395.30L661.30 371.65M640.48 395.30L661.30 374.48M643.31 395.30L661.30 377.31M646.14 395.30L661.30 380.14M648.97 395.30L661.30 382.97M651.80 395.30L661.30 385.80M654.63 395.30L661.30 388.63M657.46 395.30L661.30 391.46M660.29 395.30L661.30 394.29" stroke="#90cd90" stroke-width="0.95" fill="none"/>
<rect x="617.50" y="308.20" width="43.80" height="87.10" fill="none" stroke="#5db35d" stroke-width="1.0"/>
<polyline points="573.40,264.20 573.40,254.60 639.50,254.60 639.50,271.70" fill="none" stroke="#454545" stroke-width="1.0"/>
<polygon points="602.08,241.45 602.89,243.50 605.06,243.18 603.70,244.90 605.06,246.62 602.89,246.30 602.08,248.35 601.26,246.30 599.09,246.62 600.45,244.90 599.09,243.18 601.26,243.50" fill="#000" stroke="#000" stroke-width="0.88" stroke-linejoin="round"/>
<polygon points="610.83,241.45 611.64,243.50 613.81,243.18 612.45,244.90 613.81,246.62 611.64,246.30 610.83,248.35 610.01,246.30 607.84,246.62 609.20,244.90 607.84,243.18 610.01,243.50" fill="#000" stroke="#000" stroke-width="0.88" stroke-linejoin="round"/>
<line x1="573.50" y1="285.40" x2="573.50" y2="293.00" stroke="#454545" stroke-width="1.0" />
<line x1="562.50" y1="285.40" x2="584.50" y2="285.40" stroke="#454545" stroke-width="1.0" />
<line x1="562.50" y1="293.00" x2="584.50" y2="293.00" stroke="#454545" stroke-width="1.0" />
<circle cx="573.50" cy="272.70" r="3.1" fill="rgba(255,255,255,0.35)" stroke="#2c2c2c" stroke-width="0.9"/>
<circle cx="573.50" cy="276.90" r="3.1" fill="rgba(255,255,255,0.35)" stroke="#2c2c2c" stroke-width="0.9"/>
<circle cx="573.50" cy="283.10" r="3.1" fill="rgba(255,255,255,0.35)" stroke="#2c2c2c" stroke-width="0.9"/>
<circle cx="573.50" cy="286.00" r="3.1" fill="rgba(255,255,255,0.35)" stroke="#2c2c2c" stroke-width="0.9"/>
<circle cx="573.50" cy="289.20" r="3.1" fill="rgba(255,255,255,0.35)" stroke="#2c2c2c" stroke-width="0.9"/>
<circle cx="573.50" cy="290.70" r="3.1" fill="rgba(255,255,255,0.35)" stroke="#2c2c2c" stroke-width="0.9"/>
<circle cx="573.50" cy="300.50" r="3.1" fill="rgba(255,255,255,0.35)" stroke="#2c2c2c" stroke-width="0.9"/>
<circle cx="573.50" cy="301.50" r="3.1" fill="rgba(255,255,255,0.35)" stroke="#2c2c2c" stroke-width="0.9"/>
<line x1="639.60" y1="302.90" x2="639.60" y2="312.20" stroke="#6fbf6f" stroke-width="1.0" />
<line x1="628.90" y1="302.90" x2="650.30" y2="302.90" stroke="#6fbf6f" stroke-width="1.0" />
<line x1="628.90" y1="312.20" x2="650.30" y2="312.20" stroke="#6fbf6f" stroke-width="1.0" />
<circle cx="639.60" cy="280.90" r="3.05" fill="#0b7f0b" stroke="#143014" stroke-width="0.85"/>
<circle cx="639.60" cy="291.40" r="3.05" fill="#0b7f0b" stroke="#143014" stroke-width="0.85"/>
<circle cx="639.60" cy="296.40" r="3.05" fill="#0b7f0b" stroke="#143014" stroke-width="0.85"/>
<circle cx="639.60" cy="306.40" r="3.05" fill="#0b7f0b" stroke="#143014" stroke-width="0.85"/>
<circle cx="639.60" cy="307.50" r="3.05" fill="#0b7f0b" stroke="#143014" stroke-width="0.85"/>
<circle cx="639.60" cy="314.50" r="3.05" fill="#0b7f0b" stroke="#143014" stroke-width="0.85"/>
<circle cx="639.60" cy="318.00" r="3.05" fill="#0b7f0b" stroke="#143014" stroke-width="0.85"/>
<circle cx="639.60" cy="324.20" r="3.05" fill="#0b7f0b" stroke="#143014" stroke-width="0.85"/>
<circle cx="639.60" cy="327.60" r="3.05" fill="#0b7f0b" stroke="#143014" stroke-width="0.85"/>
<text x="573.00" y="413.90" font-size="12.9" text-anchor="middle" font-weight="normal" fill="#1a1a1a" >Control</text>
<text x="639.40" y="413.90" font-size="12.9" text-anchor="middle" font-weight="normal" fill="#1a1a1a" >Adenine</text>
<text x="639.40" y="427.40" font-size="12.9" text-anchor="middle" font-weight="normal" fill="#1a1a1a" >CKD</text>
<text x="492.30" y="317.70" font-size="14.8" text-anchor="middle" font-weight="normal" fill="#1a1a1a" transform="rotate(-90 492.30 317.70)" textLength="60.5" lengthAdjust="spacingAndGlyphs" >EDV (µL)</text>
<text x="484.00" y="222.00" font-size="18" text-anchor="start" font-weight="bold" fill="#000" >F</text>
<line x1="69.90" y1="474.20" x2="69.90" y2="627.40" stroke="#454545" stroke-width="1.0" />
<line x1="64.40" y1="627.40" x2="69.90" y2="627.40" stroke="#454545" stroke-width="1.0" />
<text x="62.40" y="631.97" font-size="12.7" text-anchor="end" font-weight="normal" fill="#111" >0</text>
<line x1="64.40" y1="596.76" x2="69.90" y2="596.76" stroke="#454545" stroke-width="1.0" />
<text x="62.40" y="601.33" font-size="12.7" text-anchor="end" font-weight="normal" fill="#111" >20</text>
<line x1="64.40" y1="566.12" x2="69.90" y2="566.12" stroke="#454545" stroke-width="1.0" />
<text x="62.40" y="570.69" font-size="12.7" text-anchor="end" font-weight="normal" fill="#111" >40</text>
<line x1="64.40" y1="535.48" x2="69.90" y2="535.48" stroke="#454545" stroke-width="1.0" />
<text x="62.40" y="540.05" font-size="12.7" text-anchor="end" font-weight="normal" fill="#111" >60</text>
<line x1="64.40" y1="504.84" x2="69.90" y2="504.84" stroke="#454545" stroke-width="1.0" />
<text x="62.40" y="509.41" font-size="12.7" text-anchor="end" font-weight="normal" fill="#111" >80</text>
<line x1="64.40" y1="474.20" x2="69.90" y2="474.20" stroke="#454545" stroke-width="1.0" />
<text x="62.40" y="478.77" font-size="12.7" text-anchor="end" font-weight="normal" fill="#111" >100</text>
<line x1="64.40" y1="627.40" x2="224.30" y2="627.40" stroke="#454545" stroke-width="1.0" />
<rect x="92.20" y="508.40" width="43.80" height="119.00" fill="#fff" stroke="#454545" stroke-width="1.0"/>
<rect x="158.40" y="508.00" width="43.10" height="119.40" fill="#fff"/>
<path d="M158.40 509.48L159.88 508.00M158.40 512.31L162.71 508.00M158.40 515.14L165.54 508.00M158.40 517.97L168.37 508.00M158.40 520.80L171.20 508.00M158.40 523.63L174.03 508.00M158.40 526.46L176.86 508.00M158.40 529.29L179.69 508.00M158.40 532.12L182.52 508.00M158.40 534.95L185.35 508.00M158.40 537.78L188.18 508.00M158.40 540.61L191.01 508.00M158.40 543.44L193.84 508.00M158.40 546.27L196.67 508.00M158.40 549.10L199.50 508.00M158.40 551.93L201.50 508.83M158.40 554.76L201.50 511.66M158.40 557.59L201.50 514.49M158.40 560.42L201.50 517.32M158.40 563.25L201.50 520.15M158.40 566.08L201.50 522.98M158.40 568.91L201.50 525.81M158.40 571.74L201.50 528.64M158.40 574.57L201.50 531.47M158.40 577.40L201.50 534.30M158.40 580.23L201.50 537.13M158.40 583.06L201.50 539.96M158.40 585.89L201.50 542.79M158.40 588.72L201.50 545.62M158.40 591.55L201.50 548.45M158.40 594.38L201.50 551.28M158.40 597.21L201.50 554.11M158.40 600.04L201.50 556.94M158.40 602.87L201.50 559.77M158.40 605.70L201.50 562.60M158.40 608.53L201.50 565.43M158.40 611.36L201.50 568.26M158.40 614.19L201.50 571.09M158.40 617.02L201.50 573.92M158.40 619.85L201.50 576.75M158.40 622.68L201.50 579.58M158.40 625.51L201.50 582.41M159.34 627.40L201.50 585.24M162.17 627.40L201.50 588.07M165.00 627.40L201.50 590.90M167.83 627.40L201.50 593.73M170.66 627.40L201.50 596.56M173.49 627.40L201.50 599.39M176.32 627.40L201.50 602.22M179.15 627.40L201.50 605.05M181.98 627.40L201.50 607.88M184.81 627.40L201.50 610.71M187.64 627.40L201.50 613.54M190.47 627.40L201.50 616.37M193.30 627.40L201.50 619.20M196.13 627.40L201.50 622.03M198.96 627.40L201.50 624.86" stroke="#90cd90" stroke-width="0.95" fill="none"/>
<rect x="158.40" y="508.00" width="43.10" height="119.40" fill="none" stroke="#5db35d" stroke-width="1.0"/>
<polyline points="113.90,489.30 113.90,479.00 180.50,479.00 180.50,488.80" fill="none" stroke="#454545" stroke-width="1.0"/>
<text x="147.00" y="471.40" font-size="12.7" text-anchor="middle" font-weight="normal" fill="#1a1a1a" >ns</text>
<line x1="113.90" y1="505.70" x2="113.90" y2="511.00" stroke="#454545" stroke-width="1.0" />
<line x1="102.80" y1="505.70" x2="125.00" y2="505.70" stroke="#454545" stroke-width="1.0" />
<line x1="102.80" y1="511.00" x2="125.00" y2="511.00" stroke="#454545" stroke-width="1.0" />
<circle cx="113.90" cy="498.70" r="3.1" fill="rgba(255,255,255,0.35)" stroke="#2c2c2c" stroke-width="0.9"/>
<circle cx="113.90" cy="501.50" r="3.1" fill="rgba(255,255,255,0.35)" stroke="#2c2c2c" stroke-width="0.9"/>
<circle cx="113.90" cy="503.40" r="3.1" fill="rgba(255,255,255,0.35)" stroke="#2c2c2c" stroke-width="0.9"/>
<circle cx="113.90" cy="505.90" r="3.1" fill="rgba(255,255,255,0.35)" stroke="#2c2c2c" stroke-width="0.9"/>
<circle cx="113.90" cy="508.50" r="3.1" fill="rgba(255,255,255,0.35)" stroke="#2c2c2c" stroke-width="0.9"/>
<circle cx="113.90" cy="512.90" r="3.1" fill="rgba(255,255,255,0.35)" stroke="#2c2c2c" stroke-width="0.9"/>
<circle cx="113.90" cy="519.50" r="3.1" fill="rgba(255,255,255,0.35)" stroke="#2c2c2c" stroke-width="0.9"/>
<line x1="180.50" y1="506.20" x2="180.50" y2="509.60" stroke="#6fbf6f" stroke-width="1.0" />
<line x1="169.60" y1="506.20" x2="191.40" y2="506.20" stroke="#6fbf6f" stroke-width="1.0" />
<line x1="169.60" y1="509.60" x2="191.40" y2="509.60" stroke="#6fbf6f" stroke-width="1.0" />
<circle cx="180.50" cy="497.10" r="3.05" fill="#0b7f0b" stroke="#143014" stroke-width="0.85"/>
<circle cx="180.50" cy="505.30" r="3.05" fill="#0b7f0b" stroke="#143014" stroke-width="0.85"/>
<circle cx="180.50" cy="508.50" r="3.05" fill="#0b7f0b" stroke="#143014" stroke-width="0.85"/>
<circle cx="180.50" cy="514.80" r="3.05" fill="#0b7f0b" stroke="#143014" stroke-width="0.85"/>
<text x="113.90" y="646.20" font-size="12.9" text-anchor="middle" font-weight="normal" fill="#1a1a1a" >Control</text>
<text x="179.90" y="646.20" font-size="12.9" text-anchor="middle" font-weight="normal" fill="#1a1a1a" >Adenine</text>
<text x="179.90" y="659.60" font-size="12.9" text-anchor="middle" font-weight="normal" fill="#1a1a1a" >CKD</text>
<text x="34.70" y="549.80" font-size="14.8" text-anchor="middle" font-weight="normal" fill="#1a1a1a" transform="rotate(-90 34.70 549.80)" textLength="132.2" lengthAdjust="spacingAndGlyphs" >Ejection fraction (%)</text>
<text x="22.50" y="465.00" font-size="18" text-anchor="start" font-weight="bold" fill="#000" >G</text>
<line x1="70.10" y1="698.60" x2="70.10" y2="852.20" stroke="#454545" stroke-width="1.0" />
<line x1="64.60" y1="852.20" x2="70.10" y2="852.20" stroke="#454545" stroke-width="1.0" />
<text x="62.50" y="856.77" font-size="12.7" text-anchor="end" font-weight="normal" fill="#111" >0</text>
<line x1="64.60" y1="801.00" x2="70.10" y2="801.00" stroke="#454545" stroke-width="1.0" />
<text x="62.50" y="805.57" font-size="12.7" text-anchor="end" font-weight="normal" fill="#111" >1</text>
<line x1="64.60" y1="749.80" x2="70.10" y2="749.80" stroke="#454545" stroke-width="1.0" />
<text x="62.50" y="754.37" font-size="12.7" text-anchor="end" font-weight="normal" fill="#111" >2</text>
<line x1="64.60" y1="698.60" x2="70.10" y2="698.60" stroke="#454545" stroke-width="1.0" />
<text x="62.50" y="703.17" font-size="12.7" text-anchor="end" font-weight="normal" fill="#111" >3</text>
<line x1="64.60" y1="852.20" x2="224.00" y2="852.20" stroke="#454545" stroke-width="1.0" />
<rect x="92.20" y="801.10" width="43.70" height="51.10" fill="#fff" stroke="#454545" stroke-width="1.0"/>
<rect x="158.10" y="823.40" width="43.30" height="28.80" fill="#fff"/>
<path d="M158.10 823.91L158.61 823.40M158.10 826.74L161.44 823.40M158.10 829.57L164.27 823.40M158.10 832.40L167.10 823.40M158.10 835.23L169.93 823.40M158.10 838.06L172.76 823.40M158.10 840.89L175.59 823.40M158.10 843.72L178.42 823.40M158.10 846.55L181.25 823.40M158.10 849.38L184.08 823.40M158.11 852.20L186.91 823.40M160.94 852.20L189.74 823.40M163.77 852.20L192.57 823.40M166.60 852.20L195.40 823.40M169.43 852.20L198.23 823.40M172.26 852.20L201.06 823.40M175.09 852.20L201.40 825.89M177.92 852.20L201.40 828.72M180.75 852.20L201.40 831.55M183.58 852.20L201.40 834.38M186.41 852.20L201.40 837.21M189.24 852.20L201.40 840.04M192.07 852.20L201.40 842.87M194.90 852.20L201.40 845.70M197.73 852.20L201.40 848.53M200.56 852.20L201.40 851.36" stroke="#90cd90" stroke-width="0.95" fill="none"/>
<rect x="158.10" y="823.40" width="43.30" height="28.80" fill="none" stroke="#5db35d" stroke-width="1.0"/>
<polyline points="113.90,720.40 113.90,712.10 179.50,712.10 179.50,781.00" fill="none" stroke="#454545" stroke-width="1.0"/>
<text x="146.50" y="707.20" font-size="12.7" text-anchor="middle" font-weight="normal" fill="#1a1a1a" >ns</text>
<line x1="113.90" y1="789.60" x2="113.90" y2="812.40" stroke="#454545" stroke-width="1.0" />
<line x1="102.90" y1="789.60" x2="124.90" y2="789.60" stroke="#454545" stroke-width="1.0" />
<line x1="102.90" y1="812.40" x2="124.90" y2="812.40" stroke="#454545" stroke-width="1.0" />
<circle cx="113.90" cy="729.90" r="3.1" fill="rgba(255,255,255,0.35)" stroke="#2c2c2c" stroke-width="0.9"/>
<circle cx="113.90" cy="765.50" r="3.1" fill="rgba(255,255,255,0.35)" stroke="#2c2c2c" stroke-width="0.9"/>
<circle cx="113.90" cy="799.10" r="3.1" fill="rgba(255,255,255,0.35)" stroke="#2c2c2c" stroke-width="0.9"/>
<circle cx="113.90" cy="802.00" r="3.1" fill="rgba(255,255,255,0.35)" stroke="#2c2c2c" stroke-width="0.9"/>
<circle cx="113.90" cy="803.90" r="3.1" fill="rgba(255,255,255,0.35)" stroke="#2c2c2c" stroke-width="0.9"/>
<circle cx="113.90" cy="817.50" r="3.1" fill="rgba(255,255,255,0.35)" stroke="#2c2c2c" stroke-width="0.9"/>
<circle cx="113.90" cy="825.70" r="3.1" fill="rgba(255,255,255,0.35)" stroke="#2c2c2c" stroke-width="0.9"/>
<circle cx="113.90" cy="828.20" r="3.1" fill="rgba(255,255,255,0.35)" stroke="#2c2c2c" stroke-width="0.9"/>
<circle cx="113.90" cy="837.10" r="3.1" fill="rgba(255,255,255,0.35)" stroke="#2c2c2c" stroke-width="0.9"/>
<line x1="179.50" y1="812.40" x2="179.50" y2="833.90" stroke="#6fbf6f" stroke-width="1.0" />
<line x1="168.80" y1="812.40" x2="190.20" y2="812.40" stroke="#6fbf6f" stroke-width="1.0" />
<line x1="168.80" y1="833.90" x2="190.20" y2="833.90" stroke="#6fbf6f" stroke-width="1.0" />
<circle cx="179.50" cy="790.20" r="3.05" fill="#0b7f0b" stroke="#143014" stroke-width="0.85"/>
<circle cx="179.50" cy="806.20" r="3.05" fill="#0b7f0b" stroke="#143014" stroke-width="0.85"/>
<circle cx="179.50" cy="830.40" r="3.05" fill="#0b7f0b" stroke="#143014" stroke-width="0.85"/>
<circle cx="179.50" cy="842.80" r="3.05" fill="#0b7f0b" stroke="#143014" stroke-width="0.85"/>
<circle cx="179.50" cy="846.00" r="3.05" fill="#0b7f0b" stroke="#143014" stroke-width="0.85"/>
<text x="113.70" y="870.20" font-size="12.9" text-anchor="middle" font-weight="normal" fill="#1a1a1a" >Control</text>
<text x="179.20" y="870.20" font-size="12.9" text-anchor="middle" font-weight="normal" fill="#1a1a1a" >Adenine</text>
<text x="179.20" y="884.20" font-size="12.9" text-anchor="middle" font-weight="normal" fill="#1a1a1a" >CKD</text>
<text x="48.20" y="774.80" font-size="14.8" text-anchor="middle" font-weight="normal" fill="#1a1a1a" transform="rotate(-90 48.20 774.80)" textLength="54.0" lengthAdjust="spacingAndGlyphs" >PCr/ATP</text>
<text x="29.00" y="695.00" font-size="18" text-anchor="start" font-weight="bold" fill="#000" >I</text>
<line x1="325.20" y1="460.80" x2="325.20" y2="627.40" stroke="#454545" stroke-width="1.0" />
<line x1="319.20" y1="627.40" x2="325.20" y2="627.40" stroke="#454545" stroke-width="1.0" />
<text x="316.90" y="632.44" font-size="14" text-anchor="end" font-weight="normal" fill="#111" >0.0</text>
<line x1="319.20" y1="585.75" x2="325.20" y2="585.75" stroke="#454545" stroke-width="1.0" />
<text x="316.90" y="590.79" font-size="14" text-anchor="end" font-weight="normal" fill="#111" >0.5</text>
<line x1="319.20" y1="544.10" x2="325.20" y2="544.10" stroke="#454545" stroke-width="1.0" />
<text x="316.90" y="549.14" font-size="14" text-anchor="end" font-weight="normal" fill="#111" >1.0</text>
<line x1="319.20" y1="502.45" x2="325.20" y2="502.45" stroke="#454545" stroke-width="1.0" />
<text x="316.90" y="507.49" font-size="14" text-anchor="end" font-weight="normal" fill="#111" >1.5</text>
<line x1="319.20" y1="460.80" x2="325.20" y2="460.80" stroke="#454545" stroke-width="1.0" />
<text x="316.90" y="465.84" font-size="14" text-anchor="end" font-weight="normal" fill="#111" >2.0</text>
<line x1="319.20" y1="627.40" x2="563.40" y2="627.40" stroke="#454545" stroke-width="1.0" />
<rect x="338.30" y="542.50" width="25.70" height="84.90" fill="#fff" stroke="#454545" stroke-width="1.0"/>
<rect x="369.30" y="572.30" width="25.60" height="55.10" fill="#fff"/>
<path d="M369.30 573.70L370.70 572.30M369.30 577.80L374.80 572.30M369.30 581.90L378.90 572.30M369.30 586.00L383.00 572.30M369.30 590.10L387.10 572.30M369.30 594.20L391.20 572.30M369.30 598.30L394.90 572.70M369.30 602.40L394.90 576.80M369.30 606.50L394.90 580.90M369.30 610.60L394.90 585.00M369.30 614.70L394.90 589.10M369.30 618.80L394.90 593.20M369.30 622.90L394.90 597.30M369.30 627.00L394.90 601.40M373.00 627.40L394.90 605.50M377.10 627.40L394.90 609.60M381.20 627.40L394.90 613.70M385.30 627.40L394.90 617.80M389.40 627.40L394.90 621.90M393.50 627.40L394.90 626.00" stroke="#3a9e3a" stroke-width="1.15" fill="none"/>
<rect x="369.30" y="572.30" width="25.60" height="55.10" fill="none" stroke="#1e8a1e" stroke-width="1.4"/>
<rect x="416.30" y="540.20" width="25.40" height="87.20" fill="#fff" stroke="#454545" stroke-width="1.0"/>
<rect x="447.60" y="599.40" width="24.80" height="28.00" fill="#fff"/>
<path d="M447.60 602.00L450.20 599.40M447.60 606.10L454.30 599.40M447.60 610.20L458.40 599.40M447.60 614.30L462.50 599.40M447.60 618.40L466.60 599.40M447.60 622.50L470.70 599.40M447.60 626.60L472.40 601.80M450.90 627.40L472.40 605.90M455.00 627.40L472.40 610.00M459.10 627.40L472.40 614.10M463.20 627.40L472.40 618.20M467.30 627.40L472.40 622.30M471.40 627.40L472.40 626.40" stroke="#3a9e3a" stroke-width="1.15" fill="none"/>
<rect x="447.60" y="599.40" width="24.80" height="28.00" fill="none" stroke="#1e8a1e" stroke-width="1.4"/>
<rect x="493.50" y="542.40" width="25.90" height="85.00" fill="#fff" stroke="#454545" stroke-width="1.0"/>
<rect x="524.70" y="512.60" width="25.60" height="114.80" fill="#fff"/>
<path d="M524.70 516.70L528.80 512.60M524.70 520.80L532.90 512.60M524.70 524.90L537.00 512.60M524.70 529.00L541.10 512.60M524.70 533.10L545.20 512.60M524.70 537.20L549.30 512.60M524.70 541.30L550.30 515.70M524.70 545.40L550.30 519.80M524.70 549.50L550.30 523.90M524.70 553.60L550.30 528.00M524.70 557.70L550.30 532.10M524.70 561.80L550.30 536.20M524.70 565.90L550.30 540.30M524.70 570.00L550.30 544.40M524.70 574.10L550.30 548.50M524.70 578.20L550.30 552.60M524.70 582.30L550.30 556.70M524.70 586.40L550.30 560.80M524.70 590.50L550.30 564.90M524.70 594.60L550.30 569.00M524.70 598.70L550.30 573.10M524.70 602.80L550.30 577.20M524.70 606.90L550.30 581.30M524.70 611.00L550.30 585.40M524.70 615.10L550.30 589.50M524.70 619.20L550.30 593.60M524.70 623.30L550.30 597.70M524.70 627.40L550.30 601.80M528.80 627.40L550.30 605.90M532.90 627.40L550.30 610.00M537.00 627.40L550.30 614.10M541.10 627.40L550.30 618.20M545.20 627.40L550.30 622.30M549.30 627.40L550.30 626.40" stroke="#3a9e3a" stroke-width="1.15" fill="none"/>
<rect x="524.70" y="512.60" width="25.60" height="114.80" fill="none" stroke="#1e8a1e" stroke-width="1.4"/>
<line x1="351.15" y1="533.70" x2="351.15" y2="551.40" stroke="#454545" stroke-width="1.0" />
<line x1="344.95" y1="533.70" x2="357.35" y2="533.70" stroke="#454545" stroke-width="1.0" />
<line x1="344.95" y1="551.40" x2="357.35" y2="551.40" stroke="#454545" stroke-width="1.0" />
<circle cx="351.15" cy="518.90" r="2.4" fill="none" stroke="#454545" stroke-width="0.9"/>
<circle cx="351.15" cy="539.00" r="2.4" fill="none" stroke="#454545" stroke-width="0.9"/>
<circle cx="351.15" cy="554.30" r="2.4" fill="none" stroke="#454545" stroke-width="0.9"/>
<circle cx="351.15" cy="559.10" r="2.4" fill="none" stroke="#454545" stroke-width="0.9"/>
<line x1="382.10" y1="551.90" x2="382.10" y2="591.00" stroke="#3c9a3c" stroke-width="1.2" />
<line x1="375.90" y1="551.90" x2="388.30" y2="551.90" stroke="#3c9a3c" stroke-width="1.2" />
<line x1="375.90" y1="591.00" x2="388.30" y2="591.00" stroke="#3c9a3c" stroke-width="1.2" />
<circle cx="382.10" cy="492.90" r="2.6" fill="#0b7f0b" stroke="#0a6a0a" stroke-width="0.5"/>
<circle cx="382.10" cy="586.90" r="2.6" fill="#0b7f0b" stroke="#0a6a0a" stroke-width="0.5"/>
<circle cx="382.10" cy="589.30" r="2.6" fill="#0b7f0b" stroke="#0a6a0a" stroke-width="0.5"/>
<circle cx="382.10" cy="603.90" r="2.6" fill="#0b7f0b" stroke="#0a6a0a" stroke-width="0.5"/>
<polyline points="351.10,506.50 351.10,478.00 382.20,478.00 382.20,485.90" fill="none" stroke="#454545" stroke-width="1.0"/>
<text x="366.65" y="470.60" font-size="11" text-anchor="middle" font-weight="normal" fill="#1a1a1a" >ns</text>
<text x="366.60" y="647.40" font-size="14" text-anchor="middle" font-weight="normal" fill="#111" >BNP</text>
<line x1="429.00" y1="525.50" x2="429.00" y2="554.30" stroke="#454545" stroke-width="1.0" />
<line x1="422.70" y1="525.50" x2="435.30" y2="525.50" stroke="#454545" stroke-width="1.0" />
<line x1="422.70" y1="554.30" x2="435.30" y2="554.30" stroke="#454545" stroke-width="1.0" />
<circle cx="429.00" cy="504.90" r="2.4" fill="none" stroke="#454545" stroke-width="0.9"/>
<circle cx="429.00" cy="539.70" r="2.4" fill="none" stroke="#454545" stroke-width="0.9"/>
<circle cx="429.00" cy="575.80" r="2.4" fill="none" stroke="#454545" stroke-width="0.9"/>
<line x1="460.00" y1="597.10" x2="460.00" y2="602.00" stroke="#3c9a3c" stroke-width="1.2" />
<line x1="454.00" y1="597.10" x2="466.00" y2="597.10" stroke="#3c9a3c" stroke-width="1.2" />
<line x1="454.00" y1="602.00" x2="466.00" y2="602.00" stroke="#3c9a3c" stroke-width="1.2" />
<circle cx="460.00" cy="593.00" r="2.6" fill="#0b7f0b" stroke="#0a6a0a" stroke-width="0.5"/>
<circle cx="460.00" cy="595.50" r="2.6" fill="#0b7f0b" stroke="#0a6a0a" stroke-width="0.5"/>
<circle cx="460.00" cy="598.00" r="2.6" fill="#0b7f0b" stroke="#0a6a0a" stroke-width="0.5"/>
<circle cx="460.00" cy="600.50" r="2.6" fill="#0b7f0b" stroke="#0a6a0a" stroke-width="0.5"/>
<circle cx="460.00" cy="602.50" r="2.6" fill="#0b7f0b" stroke="#0a6a0a" stroke-width="0.5"/>
<circle cx="460.00" cy="604.40" r="2.6" fill="#0b7f0b" stroke="#0a6a0a" stroke-width="0.5"/>
<polyline points="428.80,490.70 428.80,477.80 460.00,477.80 460.00,581.90" fill="none" stroke="#454545" stroke-width="1.0"/>
<polygon points="444.40,464.60 445.10,466.38 447.00,466.10 445.81,467.60 447.00,469.10 445.10,468.82 444.40,470.60 443.69,468.82 441.80,469.10 442.99,467.60 441.80,466.10 443.69,466.38" fill="#000" stroke="#000" stroke-width="0.83" stroke-linejoin="round"/>
<text x="444.35" y="647.40" font-size="14" text-anchor="middle" font-weight="normal" fill="#111" >Glut4</text>
<line x1="506.45" y1="534.90" x2="506.45" y2="550.60" stroke="#454545" stroke-width="1.0" />
<line x1="500.25" y1="534.90" x2="512.65" y2="534.90" stroke="#454545" stroke-width="1.0" />
<line x1="500.25" y1="550.60" x2="512.65" y2="550.60" stroke="#454545" stroke-width="1.0" />
<circle cx="506.45" cy="532.00" r="2.4" fill="none" stroke="#454545" stroke-width="0.9"/>
<circle cx="506.45" cy="541.20" r="2.4" fill="none" stroke="#454545" stroke-width="0.9"/>
<circle cx="506.45" cy="565.20" r="2.4" fill="none" stroke="#454545" stroke-width="0.9"/>
<line x1="537.50" y1="504.10" x2="537.50" y2="519.70" stroke="#3c9a3c" stroke-width="1.2" />
<line x1="531.10" y1="504.10" x2="543.90" y2="504.10" stroke="#3c9a3c" stroke-width="1.2" />
<line x1="531.10" y1="519.70" x2="543.90" y2="519.70" stroke="#3c9a3c" stroke-width="1.2" />
<circle cx="537.50" cy="495.00" r="2.6" fill="#0b7f0b" stroke="#0a6a0a" stroke-width="0.5"/>
<circle cx="537.50" cy="499.80" r="2.6" fill="#0b7f0b" stroke="#0a6a0a" stroke-width="0.5"/>
<circle cx="537.50" cy="507.80" r="2.6" fill="#0b7f0b" stroke="#0a6a0a" stroke-width="0.5"/>
<circle cx="537.50" cy="522.60" r="2.6" fill="#0b7f0b" stroke="#0a6a0a" stroke-width="0.5"/>
<circle cx="537.50" cy="537.40" r="2.6" fill="#0b7f0b" stroke="#0a6a0a" stroke-width="0.5"/>
<polyline points="506.40,524.10 506.40,477.90 537.50,477.90 537.50,486.40" fill="none" stroke="#454545" stroke-width="1.0"/>
<polygon points="521.95,464.60 522.66,466.38 524.55,466.10 523.36,467.60 524.55,469.10 522.66,468.82 521.95,470.60 521.25,468.82 519.35,469.10 520.54,467.60 519.35,466.10 521.25,466.38" fill="#000" stroke="#000" stroke-width="0.83" stroke-linejoin="round"/>
<text x="521.90" y="647.40" font-size="14" text-anchor="middle" font-weight="normal" fill="#111" >CD36</text>
<circle cx="570.60" cy="502.10" r="2.4" fill="#fff" stroke="#454545" stroke-width="0.9"/>
<text x="589.40" y="506.80" font-size="14" text-anchor="start" font-weight="normal" fill="#111" >Control</text>
<circle cx="570.60" cy="524.60" r="2.6" fill="#0b7f0b" stroke="#0a6a0a" stroke-width="0.5"/>
<text x="589.40" y="529.20" font-size="14" text-anchor="start" font-weight="normal" fill="#111" >Adenine CKD</text>
<text x="288.00" y="543.30" font-size="16" text-anchor="middle" font-weight="normal" fill="#111" transform="rotate(-90 288.00 543.30)" textLength="140.6" lengthAdjust="spacingAndGlyphs" >Relative expression</text>
<text x="259.30" y="465.00" font-size="18" text-anchor="start" font-weight="bold" fill="#000" >H</text>
<line x1="324.80" y1="681.20" x2="324.80" y2="745.00" stroke="#454545" stroke-width="1.0" />
<line x1="319.30" y1="681.20" x2="324.80" y2="681.20" stroke="#454545" stroke-width="1.0" />
<text x="317.00" y="684.60" font-size="9.5" text-anchor="end" font-weight="normal" fill="#111" >20</text>
<line x1="319.30" y1="702.40" x2="324.80" y2="702.40" stroke="#454545" stroke-width="1.0" />
<text x="317.00" y="705.80" font-size="9.5" text-anchor="end" font-weight="normal" fill="#111" >15</text>
<line x1="319.30" y1="723.70" x2="324.80" y2="723.70" stroke="#454545" stroke-width="1.0" />
<text x="317.00" y="727.10" font-size="9.5" text-anchor="end" font-weight="normal" fill="#111" >10</text>
<text x="317.00" y="748.40" font-size="9.5" text-anchor="end" font-weight="normal" fill="#111" >5</text>
<line x1="320.90" y1="745.40" x2="328.30" y2="745.40" stroke="#454545" stroke-width="1.0" />
<line x1="324.80" y1="756.10" x2="324.80" y2="852.20" stroke="#454545" stroke-width="1.0" />
<line x1="320.90" y1="756.10" x2="328.30" y2="756.10" stroke="#454545" stroke-width="1.0" />
<line x1="319.80" y1="852.20" x2="324.80" y2="852.20" stroke="#454545" stroke-width="1.0" />
<text x="317.00" y="855.60" font-size="9.5" text-anchor="end" font-weight="normal" fill="#111" >0</text>
<line x1="319.80" y1="824.70" x2="324.80" y2="824.70" stroke="#454545" stroke-width="1.0" />
<text x="317.00" y="828.10" font-size="9.5" text-anchor="end" font-weight="normal" fill="#111" >1</text>
<line x1="319.80" y1="797.20" x2="324.80" y2="797.20" stroke="#454545" stroke-width="1.0" />
<text x="317.00" y="800.60" font-size="9.5" text-anchor="end" font-weight="normal" fill="#111" >2</text>
<line x1="319.80" y1="769.70" x2="324.80" y2="769.70" stroke="#454545" stroke-width="1.0" />
<text x="317.00" y="773.10" font-size="9.5" text-anchor="end" font-weight="normal" fill="#111" >3</text>
<line x1="324.80" y1="825.1" x2="647.5" y2="825.1" stroke="#474747" stroke-width="1.6" stroke-dasharray="3.2 2.2"/>
<rect x="327.90" y="802.30" width="30.00" height="49.90" fill="#0b7f0b" stroke="#0e870e" stroke-width="0.8"/>
<rect x="361.30" y="826.90" width="30.10" height="25.30" fill="#0b7f0b" stroke="#0e870e" stroke-width="0.8"/>
<rect x="404.60" y="843.00" width="29.90" height="9.20" fill="#fff" stroke="#5db35d" stroke-width="1.0"/>
<rect x="438.00" y="829.20" width="29.60" height="23.00" fill="#fff" stroke="#5db35d" stroke-width="1.0"/>
<rect x="480.50" y="839.20" width="30.30" height="13.00" fill="#fff"/>
<path d="M480.50 840.10L481.40 839.20M480.50 843.20L484.50 839.20M480.50 846.30L487.60 839.20M480.50 849.40L490.70 839.20M480.80 852.20L493.80 839.20M483.90 852.20L496.90 839.20M487.00 852.20L500.00 839.20M490.10 852.20L503.10 839.20M493.20 852.20L506.20 839.20M496.30 852.20L509.30 839.20M499.40 852.20L510.80 840.80M502.50 852.20L510.80 843.90M505.60 852.20L510.80 847.00M508.70 852.20L510.80 850.10" stroke="#86c886" stroke-width="1.1" fill="none"/>
<rect x="480.50" y="839.20" width="30.30" height="13.00" fill="none" stroke="#5db35d" stroke-width="1.0"/>
<rect x="514.40" y="830.60" width="29.90" height="21.60" fill="#fff"/>
<path d="M514.40 831.00L514.80 830.60M514.40 834.10L517.90 830.60M514.40 837.20L521.00 830.60M514.40 840.30L524.10 830.60M514.40 843.40L527.20 830.60M514.40 846.50L530.30 830.60M514.40 849.60L533.40 830.60M514.90 852.20L536.50 830.60M518.00 852.20L539.60 830.60M521.10 852.20L542.70 830.60M524.20 852.20L544.30 832.10M527.30 852.20L544.30 835.20M530.40 852.20L544.30 838.30M533.50 852.20L544.30 841.40M536.60 852.20L544.30 844.50M539.70 852.20L544.30 847.60M542.80 852.20L544.30 850.70" stroke="#86c886" stroke-width="1.1" fill="none"/>
<rect x="514.40" y="830.60" width="29.90" height="21.60" fill="none" stroke="#5db35d" stroke-width="1.0"/>
<rect x="547.70" y="799.60" width="29.90" height="52.60" fill="#fff"/>
<path d="M547.70 800.80L548.90 799.60M547.70 803.90L552.00 799.60M547.70 807.00L555.10 799.60M547.70 810.10L558.20 799.60M547.70 813.20L561.30 799.60M547.70 816.30L564.40 799.60M547.70 819.40L567.50 799.60M547.70 822.50L570.60 799.60M547.70 825.60L573.70 799.60M547.70 828.70L576.80 799.60M547.70 831.80L577.60 801.90M547.70 834.90L577.60 805.00M547.70 838.00L577.60 808.10M547.70 841.10L577.60 811.20M547.70 844.20L577.60 814.30M547.70 847.30L577.60 817.40M547.70 850.40L577.60 820.50M549.00 852.20L577.60 823.60M552.10 852.20L577.60 826.70M555.20 852.20L577.60 829.80M558.30 852.20L577.60 832.90M561.40 852.20L577.60 836.00M564.50 852.20L577.60 839.10M567.60 852.20L577.60 842.20M570.70 852.20L577.60 845.30M573.80 852.20L577.60 848.40M576.90 852.20L577.60 851.50" stroke="#86c886" stroke-width="1.1" fill="none"/>
<rect x="547.70" y="799.60" width="29.90" height="52.60" fill="none" stroke="#5db35d" stroke-width="1.0"/>
<rect x="581.00" y="734.30" width="30.70" height="11.00" fill="#fff"/>
<rect x="581.00" y="756.1" width="30.70" height="96.10" fill="#fff"/>
<path d="M581.00 758.20L583.10 756.10M581.00 761.30L586.20 756.10M581.00 764.40L589.30 756.10M581.00 767.50L592.40 756.10M581.00 770.60L595.50 756.10M581.00 773.70L598.60 756.10M581.00 776.80L601.70 756.10M581.00 779.90L604.80 756.10M581.00 783.00L607.90 756.10M581.00 786.10L611.00 756.10M581.00 789.20L611.70 758.50M581.00 792.30L611.70 761.60M581.00 795.40L611.70 764.70M581.00 798.50L611.70 767.80M581.00 801.60L611.70 770.90M581.00 804.70L611.70 774.00M581.00 807.80L611.70 777.10M581.00 810.90L611.70 780.20M581.00 814.00L611.70 783.30M581.00 817.10L611.70 786.40M581.00 820.20L611.70 789.50M581.00 823.30L611.70 792.60M581.00 826.40L611.70 795.70M581.00 829.50L611.70 798.80M581.00 832.60L611.70 801.90M581.00 835.70L611.70 805.00M581.00 838.80L611.70 808.10M581.00 841.90L611.70 811.20M581.00 845.00L611.70 814.30M581.00 848.10L611.70 817.40M581.00 851.20L611.70 820.50M583.10 852.20L611.70 823.60M586.20 852.20L611.70 826.70M589.30 852.20L611.70 829.80M592.40 852.20L611.70 832.90M595.50 852.20L611.70 836.00M598.60 852.20L611.70 839.10M601.70 852.20L611.70 842.20M604.80 852.20L611.70 845.30M607.90 852.20L611.70 848.40M611.00 852.20L611.70 851.50" stroke="#86c886" stroke-width="1.1" fill="none"/>
<path d="M581.00 736.50L583.20 734.30M581.00 739.60L586.30 734.30M581.00 742.70L589.40 734.30M581.50 745.30L592.50 734.30M584.60 745.30L595.60 734.30M587.70 745.30L598.70 734.30M590.80 745.30L601.80 734.30M593.90 745.30L604.90 734.30M597.00 745.30L608.00 734.30M600.10 745.30L611.10 734.30M603.20 745.30L611.70 736.80M606.30 745.30L611.70 739.90M609.40 745.30L611.70 743.00" stroke="#86c886" stroke-width="1.1" fill="none"/>
<path d="M581.00,745.3 L581.00,734.30 L611.70,734.30 L611.70,745.3" fill="none" stroke="#5db35d" stroke-width="1"/>
<path d="M581.00,852.20 L581.00,756.1 M611.70,756.1 L611.70,852.20" stroke="#5db35d" stroke-width="1"/>
<rect x="614.20" y="833.40" width="30.60" height="18.80" fill="#fff"/>
<path d="M614.20 833.50L614.30 833.40M614.20 836.60L617.40 833.40M614.20 839.70L620.50 833.40M614.20 842.80L623.60 833.40M614.20 845.90L626.70 833.40M614.20 849.00L629.80 833.40M614.20 852.10L632.90 833.40M617.20 852.20L636.00 833.40M620.30 852.20L639.10 833.40M623.40 852.20L642.20 833.40M626.50 852.20L644.80 833.90M629.60 852.20L644.80 837.00M632.70 852.20L644.80 840.10M635.80 852.20L644.80 843.20M638.90 852.20L644.80 846.30M642.00 852.20L644.80 849.40" stroke="#86c886" stroke-width="1.1" fill="none"/>
<rect x="614.20" y="833.40" width="30.60" height="18.80" fill="none" stroke="#5db35d" stroke-width="1.0"/>
<line x1="342.90" y1="799.40" x2="342.90" y2="802.30" stroke="#66bb66" stroke-width="1.0" />
<line x1="335.20" y1="799.40" x2="350.60" y2="799.40" stroke="#66bb66" stroke-width="1.0" />
<circle cx="342.90" cy="796.80" r="2.6" fill="#0b7f0b" stroke="#0a5e0a" stroke-width="0.6"/>
<circle cx="342.90" cy="800.70" r="2.6" fill="#0b7f0b" stroke="#0a5e0a" stroke-width="0.6"/>
<circle cx="342.90" cy="806.30" r="2.6" fill="#0b7f0b" stroke="#0a5e0a" stroke-width="0.6"/>
<circle cx="342.90" cy="810.40" r="2.6" fill="#0b7f0b" stroke="#0a5e0a" stroke-width="0.6"/>
<text x="345.50" y="860.50" font-size="10" text-anchor="end" font-weight="normal" fill="#111" transform="rotate(-45 345.50 860.50)" >Glycogen</text>
<line x1="376.35" y1="820.60" x2="376.35" y2="826.90" stroke="#66bb66" stroke-width="1.0" />
<line x1="368.75" y1="820.60" x2="383.95" y2="820.60" stroke="#66bb66" stroke-width="1.0" />
<circle cx="376.35" cy="806.60" r="2.6" fill="#0b7f0b" stroke="#0a5e0a" stroke-width="0.6"/>
<circle cx="376.35" cy="820.50" r="2.6" fill="#0b7f0b" stroke="#0a5e0a" stroke-width="0.6"/>
<circle cx="376.35" cy="830.20" r="2.6" fill="#0b7f0b" stroke="#0a5e0a" stroke-width="0.6"/>
<circle cx="376.35" cy="835.40" r="2.6" fill="#0b7f0b" stroke="#0a5e0a" stroke-width="0.6"/>
<circle cx="376.35" cy="840.30" r="2.6" fill="#0b7f0b" stroke="#0a5e0a" stroke-width="0.6"/>
<text x="378.95" y="860.50" font-size="10" text-anchor="end" font-weight="normal" fill="#111" transform="rotate(-45 378.95 860.50)" >Lactate</text>
<line x1="419.55" y1="840.50" x2="419.55" y2="845.50" stroke="#66bb66" stroke-width="1.0" />
<line x1="412.55" y1="840.50" x2="426.55" y2="840.50" stroke="#66bb66" stroke-width="1.0" />
<line x1="412.55" y1="845.50" x2="426.55" y2="845.50" stroke="#66bb66" stroke-width="1.0" />
<circle cx="419.55" cy="840.40" r="2.6" fill="#0b7f0b" stroke="#0a5e0a" stroke-width="0.6"/>
<circle cx="419.55" cy="842.10" r="2.6" fill="#0b7f0b" stroke="#0a5e0a" stroke-width="0.6"/>
<circle cx="419.55" cy="848.60" r="2.6" fill="#0b7f0b" stroke="#0a5e0a" stroke-width="0.6"/>
<text x="422.15" y="860.50" font-size="10" text-anchor="end" font-weight="normal" fill="#111" transform="rotate(-45 422.15 860.50)" >Fumarate</text>
<line x1="452.80" y1="823.40" x2="452.80" y2="834.60" stroke="#66bb66" stroke-width="1.0" />
<line x1="445.20" y1="823.40" x2="460.40" y2="823.40" stroke="#66bb66" stroke-width="1.0" />
<line x1="445.20" y1="834.60" x2="460.40" y2="834.60" stroke="#66bb66" stroke-width="1.0" />
<circle cx="452.80" cy="811.20" r="2.6" fill="#0b7f0b" stroke="#0a5e0a" stroke-width="0.6"/>
<circle cx="452.80" cy="821.80" r="2.6" fill="#0b7f0b" stroke="#0a5e0a" stroke-width="0.6"/>
<circle cx="452.80" cy="833.00" r="2.6" fill="#0b7f0b" stroke="#0a5e0a" stroke-width="0.6"/>
<circle cx="452.80" cy="839.30" r="2.6" fill="#0b7f0b" stroke="#0a5e0a" stroke-width="0.6"/>
<circle cx="452.80" cy="841.60" r="2.6" fill="#0b7f0b" stroke="#0a5e0a" stroke-width="0.6"/>
<text x="455.40" y="860.50" font-size="10" text-anchor="end" font-weight="normal" fill="#111" transform="rotate(-45 455.40 860.50)" >Succinate</text>
<line x1="495.65" y1="837.60" x2="495.65" y2="841.00" stroke="#66bb66" stroke-width="1.0" />
<line x1="488.65" y1="837.60" x2="502.65" y2="837.60" stroke="#66bb66" stroke-width="1.0" />
<line x1="488.65" y1="841.00" x2="502.65" y2="841.00" stroke="#66bb66" stroke-width="1.0" />
<circle cx="495.65" cy="832.00" r="2.6" fill="#0b7f0b" stroke="#0a5e0a" stroke-width="0.6"/>
<circle cx="495.65" cy="839.20" r="2.6" fill="#0b7f0b" stroke="#0a5e0a" stroke-width="0.6"/>
<circle cx="495.65" cy="841.20" r="2.6" fill="#0b7f0b" stroke="#0a5e0a" stroke-width="0.6"/>
<circle cx="495.65" cy="844.00" r="2.6" fill="#0b7f0b" stroke="#0a5e0a" stroke-width="0.6"/>
<text x="498.25" y="860.50" font-size="10" text-anchor="end" font-weight="normal" fill="#111" transform="rotate(-45 498.25 860.50)" >Carnitine</text>
<line x1="529.35" y1="822.60" x2="529.35" y2="839.00" stroke="#66bb66" stroke-width="1.0" />
<line x1="521.45" y1="822.60" x2="537.25" y2="822.60" stroke="#66bb66" stroke-width="1.0" />
<line x1="521.45" y1="839.00" x2="537.25" y2="839.00" stroke="#66bb66" stroke-width="1.0" />
<circle cx="529.35" cy="801.00" r="2.6" fill="#0b7f0b" stroke="#0a5e0a" stroke-width="0.6"/>
<circle cx="529.35" cy="828.70" r="2.6" fill="#0b7f0b" stroke="#0a5e0a" stroke-width="0.6"/>
<circle cx="529.35" cy="835.60" r="2.6" fill="#0b7f0b" stroke="#0a5e0a" stroke-width="0.6"/>
<circle cx="529.35" cy="842.00" r="2.6" fill="#0b7f0b" stroke="#0a5e0a" stroke-width="0.6"/>
<circle cx="529.35" cy="844.80" r="2.6" fill="#0b7f0b" stroke="#0a5e0a" stroke-width="0.6"/>
<text x="531.95" y="860.50" font-size="10" text-anchor="end" font-weight="normal" fill="#111" transform="rotate(-45 531.95 860.50)" >Phosphocholine</text>
<line x1="562.65" y1="766.80" x2="562.65" y2="832.90" stroke="#66bb66" stroke-width="1.0" />
<line x1="554.75" y1="766.80" x2="570.55" y2="766.80" stroke="#66bb66" stroke-width="1.0" />
<line x1="554.75" y1="832.90" x2="570.55" y2="832.90" stroke="#66bb66" stroke-width="1.0" />
<circle cx="562.65" cy="739.90" r="2.6" fill="#0b7f0b" stroke="#0a5e0a" stroke-width="0.6"/>
<circle cx="562.65" cy="781.00" r="2.6" fill="#0b7f0b" stroke="#0a5e0a" stroke-width="0.6"/>
<circle cx="562.65" cy="845.30" r="2.6" fill="#0b7f0b" stroke="#0a5e0a" stroke-width="0.6"/>
<circle cx="562.65" cy="847.60" r="2.6" fill="#0b7f0b" stroke="#0a5e0a" stroke-width="0.6"/>
<text x="565.25" y="860.50" font-size="10" text-anchor="end" font-weight="normal" fill="#111" transform="rotate(-45 565.25 860.50)" >Choline</text>
<line x1="596.35" y1="726.60" x2="596.35" y2="741.60" stroke="#66bb66" stroke-width="1.0" />
<line x1="588.65" y1="726.60" x2="604.05" y2="726.60" stroke="#66bb66" stroke-width="1.0" />
<line x1="588.65" y1="741.60" x2="604.05" y2="741.60" stroke="#66bb66" stroke-width="1.0" />
<circle cx="596.35" cy="711.60" r="2.6" fill="#0b7f0b" stroke="#0a5e0a" stroke-width="0.6"/>
<circle cx="596.35" cy="726.10" r="2.6" fill="#0b7f0b" stroke="#0a5e0a" stroke-width="0.6"/>
<circle cx="596.35" cy="735.80" r="2.6" fill="#0b7f0b" stroke="#0a5e0a" stroke-width="0.6"/>
<circle cx="596.35" cy="740.10" r="2.6" fill="#0b7f0b" stroke="#0a5e0a" stroke-width="0.6"/>
<circle cx="596.35" cy="789.00" r="2.6" fill="#0b7f0b" stroke="#0a5e0a" stroke-width="0.6"/>
<text x="598.95" y="860.50" font-size="10" text-anchor="end" font-weight="normal" fill="#111" transform="rotate(-45 598.95 860.50)" >Acetyl carnitine</text>
<line x1="629.50" y1="828.70" x2="629.50" y2="837.00" stroke="#66bb66" stroke-width="1.0" />
<line x1="621.60" y1="828.70" x2="637.40" y2="828.70" stroke="#66bb66" stroke-width="1.0" />
<line x1="621.60" y1="837.00" x2="637.40" y2="837.00" stroke="#66bb66" stroke-width="1.0" />
<circle cx="629.50" cy="821.80" r="2.6" fill="#0b7f0b" stroke="#0a5e0a" stroke-width="0.6"/>
<circle cx="629.50" cy="827.30" r="2.6" fill="#0b7f0b" stroke="#0a5e0a" stroke-width="0.6"/>
<circle cx="629.50" cy="832.00" r="2.6" fill="#0b7f0b" stroke="#0a5e0a" stroke-width="0.6"/>
<circle cx="629.50" cy="841.20" r="2.6" fill="#0b7f0b" stroke="#0a5e0a" stroke-width="0.6"/>
<circle cx="629.50" cy="842.60" r="2.6" fill="#0b7f0b" stroke="#0a5e0a" stroke-width="0.6"/>
<text x="632.10" y="860.50" font-size="10" text-anchor="end" font-weight="normal" fill="#111" transform="rotate(-45 632.10 860.50)" >Acetate</text>
<text x="343.40" y="785.60" font-size="14" text-anchor="middle" font-weight="bold" fill="#111" stroke="#111" stroke-width="0.7">#</text>
<text x="419.90" y="820.40" font-size="14" text-anchor="middle" font-weight="bold" fill="#111" stroke="#111" stroke-width="0.7">#</text>
<text x="496.10" y="820.20" font-size="14" text-anchor="middle" font-weight="bold" fill="#111" stroke="#111" stroke-width="0.7">#</text>
<text x="596.80" y="702.30" font-size="14" text-anchor="middle" font-weight="bold" fill="#111" stroke="#111" stroke-width="0.7">#</text>
<line x1="319.80" y1="852.20" x2="647.50" y2="852.20" stroke="#454545" stroke-width="1.0" />
<polyline points="328.70,686.0 328.70,682.9 390.50,682.9 390.50,686.0" fill="none" stroke="#454545" stroke-width="0.9"/>
<text x="359.60" y="675.90" font-size="10" text-anchor="middle" font-weight="normal" fill="#111" >Glycolysis</text>
<polyline points="402.80,686.0 402.80,682.9 466.30,682.9 466.30,686.0" fill="none" stroke="#454545" stroke-width="0.9"/>
<text x="434.55" y="675.90" font-size="10" text-anchor="middle" font-weight="normal" fill="#111" >TCA cycle</text>
<polyline points="483.30,686.0 483.30,682.9 644.20,682.9 644.20,686.0" fill="none" stroke="#454545" stroke-width="0.9"/>
<text x="563.75" y="675.90" font-size="10" text-anchor="middle" font-weight="normal" fill="#111" >Lipid metabolism</text>
<text x="285.00" y="763.50" font-size="12" text-anchor="middle" font-weight="normal" fill="#111" transform="rotate(-90 285.00 763.50)" textLength="141.9" lengthAdjust="spacingAndGlyphs" >Cardiac metabolomic profile</text>
<text x="299.40" y="766.90" font-size="12" text-anchor="middle" font-weight="normal" fill="#111" transform="rotate(-90 299.40 766.90)" textLength="213.1" lengthAdjust="spacingAndGlyphs" >Adenine CKD vs. Control (Fold Change)</text>
<text x="260.80" y="695.00" font-size="18" text-anchor="start" font-weight="bold" fill="#000" >J</text>
</svg>
</body></html>
